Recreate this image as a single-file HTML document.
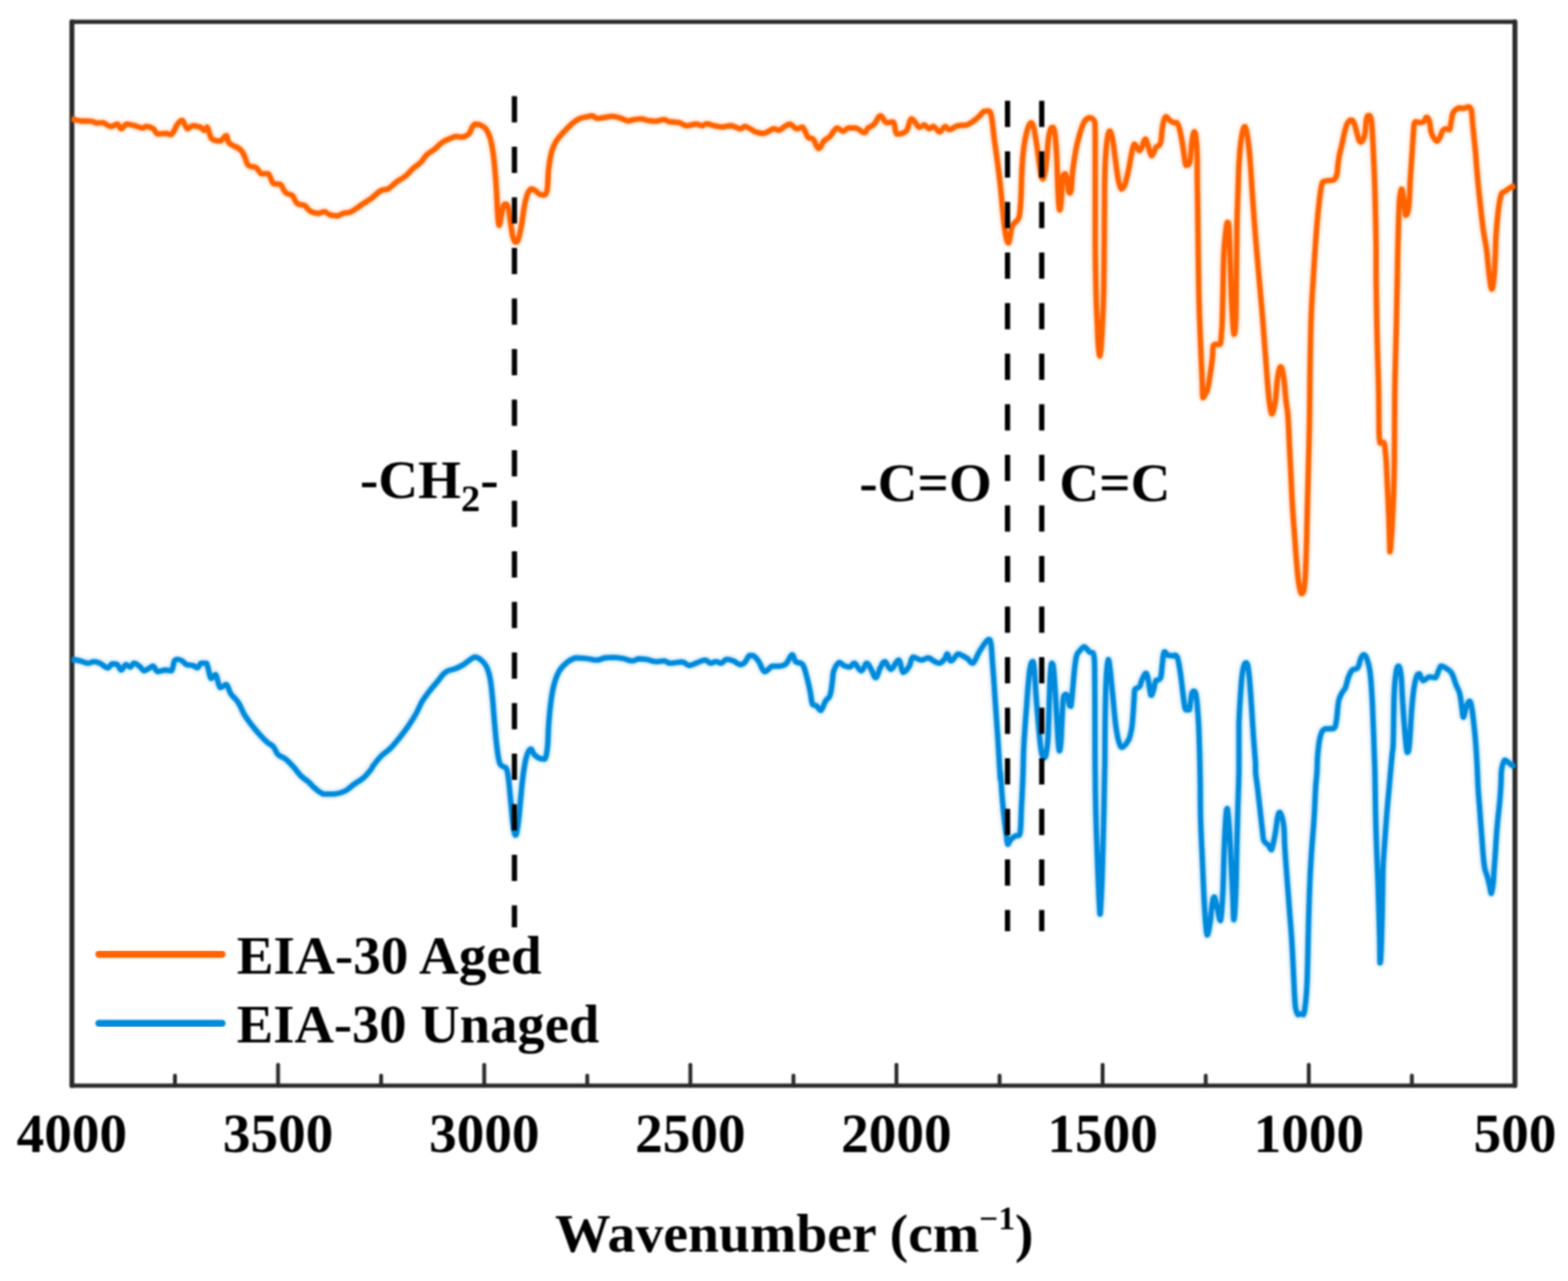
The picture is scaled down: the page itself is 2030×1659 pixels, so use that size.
<!DOCTYPE html>
<html lang="en"><head><meta charset="utf-8"><title>FTIR spectra EIA-30</title>
<style>
html,body{margin:0;padding:0;background:#fff;}
body{width:2030px;height:1659px;overflow:hidden;}
svg{display:block;}
text{font-family:"Liberation Serif","Times New Roman",Times,serif;font-weight:bold;fill:#000;}
</style></head><body>
<svg xmlns="http://www.w3.org/2000/svg" width="2030" height="1659" viewBox="0 0 2030 1659">
<rect x="0" y="0" width="2030" height="1659" fill="#fff"/>
<defs>
<filter id="soft" x="-5%" y="-5%" width="110%" height="110%" filterUnits="objectBoundingBox"><feGaussianBlur stdDeviation="1.1"/></filter>
<filter id="softer" x="-5%" y="-5%" width="110%" height="110%" filterUnits="objectBoundingBox"><feGaussianBlur stdDeviation="0.9"/></filter>
<filter id="halo" x="-5%" y="-5%" width="110%" height="110%" filterUnits="objectBoundingBox"><feGaussianBlur stdDeviation="2.2"/></filter>
</defs>
<g stroke="#2b2b2b" fill="none" filter="url(#soft)">
<path stroke-width="5.4" stroke-linecap="round" d="M93.1 28.3 H1961.3 M93.1 1406.0 H1961.3"/>
<path stroke-width="6.4" stroke-linecap="round" d="M93.1 28.3 V1406.0 M1961.3 28.3 V1406.0"/>
<path stroke-width="5" stroke-linecap="round" d="M226.5 1406.0 V1393.0 M360.0 1406.0 V1379.0 M493.4 1406.0 V1393.0 M626.9 1406.0 V1379.0 M760.3 1406.0 V1393.0 M893.8 1406.0 V1379.0 M1027.2 1406.0 V1393.0 M1160.6 1406.0 V1379.0 M1294.1 1406.0 V1393.0 M1427.5 1406.0 V1379.0 M1561.0 1406.0 V1393.0 M1694.4 1406.0 V1379.0 M1827.9 1406.0 V1393.0"/>
</g>
<g fill="none" stroke-linejoin="round" stroke-linecap="butt" stroke-width="11" opacity="0.22" filter="url(#halo)">
<path stroke="#ff6400" d="M92.8 153.9 C95.0 154.4 98.7 155.9 103.7 156.5 C108.6 156.9 113.1 156.5 117.5 156.9 C121.8 157.4 122.2 158.9 125.3 159.3 C128.5 159.3 129.7 158.9 133.2 158.9 C136.8 159.8 139.3 163.4 143.1 163.8 C146.8 163.8 149.2 160.8 152.0 160.8 C154.7 161.4 154.5 166.7 156.9 166.7 C159.3 166.7 160.2 161.6 163.8 160.8 C167.3 160.8 170.5 161.8 174.6 162.8 C178.8 163.8 181.5 165.6 184.5 165.8 C187.4 165.8 186.7 163.8 189.4 163.8 C192.2 164.0 195.3 164.8 198.3 166.7 C201.2 168.7 201.0 172.5 204.2 173.6 C207.4 173.6 210.5 172.7 214.1 172.7 C217.6 172.8 218.8 174.2 221.9 174.2 C225.1 171.9 227.1 164.5 229.8 160.8 C232.6 157.2 233.2 155.9 235.7 155.9 C238.3 157.1 239.9 165.4 242.6 166.7 C245.4 166.7 246.2 163.2 249.5 162.8 C252.9 162.8 256.4 163.6 259.4 164.8 C262.4 166.0 262.6 168.7 264.3 168.7 C266.1 168.7 266.3 164.8 268.3 164.8 C270.2 166.9 270.8 176.0 274.2 179.6 C277.5 182.5 281.3 182.5 285.0 182.5 C288.8 181.7 290.5 175.6 292.9 175.6 C295.3 176.2 292.9 181.5 296.9 185.5 C300.8 189.4 307.7 189.6 312.6 195.3 C317.6 201.0 317.8 209.7 321.5 214.1 C325.2 217.0 328.0 214.8 331.4 217.0 C334.7 219.2 335.1 223.3 338.3 224.9 C341.4 224.9 344.0 224.9 347.1 224.9 C350.3 227.5 350.9 235.0 354.0 237.7 C357.2 238.7 359.7 237.7 362.9 238.7 C366.1 241.1 366.6 246.6 369.8 249.5 C373.0 252.5 375.7 250.7 378.7 253.5 C381.6 256.2 381.4 260.8 384.6 263.3 C387.7 265.9 391.1 264.3 394.4 266.3 C397.8 268.3 398.0 271.2 401.3 273.2 C404.7 275.2 407.5 276.0 411.2 276.2 C414.9 276.2 416.9 274.2 420.1 274.2 C423.2 274.6 423.6 277.1 427.0 278.1 C430.3 279.2 433.3 279.5 436.8 279.5 C440.4 279.1 441.2 277.2 444.7 276.2 C448.3 275.1 450.2 276.2 454.6 274.2 C458.9 272.2 461.3 269.7 466.4 266.3 C471.5 262.9 476.5 259.8 480.0 257.4 C483.5 255.1 481.0 256.6 483.7 254.5 C486.4 252.3 489.8 248.6 493.5 246.6 C497.3 244.6 498.4 246.6 502.4 244.6 C506.3 242.4 508.7 239.1 513.2 235.7 C517.8 232.4 520.7 231.4 525.1 227.9 C529.4 224.3 531.0 221.5 534.9 218.0 C538.9 214.5 541.2 213.7 544.8 210.1 C548.3 206.6 549.1 203.6 552.7 200.3 C556.2 196.9 558.6 196.5 562.5 193.4 C566.5 190.2 568.8 187.0 572.4 184.5 C575.9 181.9 576.7 182.1 580.3 180.5 C583.8 179.0 586.6 177.2 590.1 176.6 C593.7 176.6 594.6 177.6 598.0 177.6 C601.4 177.0 604.1 176.4 606.9 173.6 C609.6 170.9 610.0 166.3 611.8 163.8 C613.6 161.2 613.4 161.0 615.7 160.8 C618.1 160.8 620.9 161.4 623.6 162.8 C626.4 164.2 627.4 164.6 629.5 167.7 C631.7 170.9 632.7 172.5 634.5 178.6 C636.2 184.7 637.0 188.4 638.4 198.3 C639.8 208.1 640.4 216.0 641.4 227.9 C642.4 239.7 642.8 247.6 643.3 257.4 C643.9 267.3 643.7 270.2 644.3 277.1 C644.9 284.0 645.3 291.9 646.3 291.9 C647.3 291.9 648.1 282.5 649.3 277.1 C650.4 271.8 651.0 267.9 652.2 265.3 C653.4 264.3 654.0 264.3 655.2 264.3 C656.4 265.1 656.9 264.3 658.1 269.3 C659.3 274.2 659.9 281.5 661.1 289.0 C662.3 296.5 662.7 301.8 664.0 306.7 C665.4 311.6 666.4 313.6 668.0 313.6 C669.6 313.6 670.3 312.0 671.9 306.7 C673.5 301.4 674.5 294.9 675.9 287.0 C677.2 279.1 677.4 274.4 678.8 267.3 C680.2 260.2 681.0 256.0 682.8 251.5 C684.5 247.0 685.7 245.6 687.7 244.6 C689.7 244.6 690.5 245.2 692.6 246.6 C694.8 248.0 696.2 250.3 698.5 251.5 C700.9 252.5 702.5 252.5 704.5 252.5 C706.4 251.3 707.2 252.5 708.4 245.6 C709.6 238.7 709.2 227.9 710.4 218.0 C711.6 208.1 712.3 203.4 714.3 196.3 C716.3 189.2 717.1 187.6 720.2 182.5 C723.4 177.4 726.1 175.0 730.1 170.7 C734.0 166.3 736.0 164.2 739.9 160.8 C743.9 157.5 745.9 155.8 749.8 153.9 C753.7 152.0 756.3 152.2 759.7 151.4 C763.0 150.6 763.8 150.0 766.6 150.0 C769.3 150.4 770.1 152.9 773.5 153.3 C776.8 153.3 779.4 152.5 783.3 152.0 C787.3 151.4 789.2 150.6 793.2 150.6 C797.1 150.8 799.1 151.8 803.0 152.9 C807.0 154.1 809.3 156.1 812.9 156.5 C816.4 156.5 817.2 155.4 820.8 154.9 C824.3 154.4 827.1 153.9 830.6 153.9 C834.2 154.1 835.0 155.3 838.5 155.9 C842.1 156.5 844.1 156.9 848.4 156.9 C852.7 156.7 856.5 154.9 860.0 154.9 C863.5 155.0 861.7 156.5 865.6 157.3 C869.5 158.1 874.9 157.8 879.4 158.9 C884.0 160.0 884.0 162.4 888.3 162.8 C892.6 162.8 897.0 160.8 901.1 160.8 C905.3 160.8 906.2 162.8 909.0 162.8 C911.8 162.7 911.8 160.4 914.9 160.4 C918.1 160.4 920.8 162.0 924.8 162.8 C928.7 163.6 930.3 164.4 934.6 164.4 C939.0 164.4 941.7 162.8 946.5 162.8 C951.2 163.3 954.5 166.5 958.3 166.7 C962.0 166.7 961.2 163.8 965.2 163.8 C969.1 164.6 973.3 168.9 978.0 170.7 C982.7 172.5 984.1 172.7 988.8 172.7 C993.6 171.9 997.7 167.5 1001.7 166.7 C1005.6 166.7 1005.4 168.7 1008.6 168.7 C1011.7 167.9 1014.5 164.4 1017.4 162.8 C1020.4 161.2 1020.6 160.8 1023.3 160.8 C1026.1 161.6 1028.1 166.0 1031.2 166.7 C1034.4 166.7 1036.2 164.8 1039.1 164.8 C1042.1 166.9 1043.3 174.4 1046.0 177.6 C1048.8 180.5 1050.2 177.6 1052.9 180.5 C1055.7 183.5 1057.1 192.0 1059.8 192.4 C1062.6 192.4 1063.8 185.7 1066.7 182.5 C1069.7 179.4 1071.2 180.0 1074.6 176.6 C1077.9 173.2 1080.1 167.1 1083.5 165.8 C1086.8 165.8 1088.4 169.7 1091.4 169.7 C1094.3 169.7 1094.9 166.5 1098.3 165.8 C1101.6 165.8 1104.0 165.8 1108.1 165.8 C1112.3 166.9 1115.8 171.7 1119.0 171.7 C1122.1 171.7 1121.3 167.9 1123.9 165.8 C1126.4 163.6 1128.6 164.0 1131.8 160.8 C1134.9 157.7 1136.5 150.4 1139.7 150.0 C1142.8 150.0 1144.2 157.3 1147.5 158.9 C1150.9 158.9 1153.7 157.9 1156.4 157.9 C1159.2 160.8 1158.0 171.3 1161.3 173.6 C1164.7 173.6 1169.4 173.6 1173.2 169.7 C1176.9 165.8 1176.7 154.9 1180.1 153.9 C1183.4 153.9 1186.6 163.2 1189.9 164.8 C1193.3 164.8 1194.3 161.8 1196.8 161.8 C1199.4 162.2 1200.4 166.3 1202.7 166.7 C1205.1 166.7 1205.9 163.8 1208.7 163.8 C1211.4 164.6 1213.6 170.7 1216.5 170.7 C1219.5 170.7 1220.9 164.4 1223.4 163.8 C1226.0 163.8 1226.0 167.7 1229.4 167.7 C1232.7 167.5 1235.6 164.0 1240.0 162.8 C1244.4 161.8 1247.3 162.8 1251.5 161.8 C1255.8 160.4 1258.2 158.1 1261.4 155.9 C1264.6 153.7 1264.8 153.3 1267.3 151.0 C1269.9 148.6 1271.7 145.5 1274.2 144.1 C1276.8 143.6 1278.1 143.6 1280.0 143.6 C1281.9 145.0 1282.1 143.6 1283.5 150.7 C1285.0 157.8 1285.6 167.5 1287.1 179.1 C1288.6 190.7 1289.7 196.8 1291.2 208.7 C1292.8 220.5 1293.5 226.4 1294.8 238.2 C1296.1 250.0 1296.8 258.3 1297.7 267.8 C1298.7 277.2 1298.7 278.4 1299.5 285.5 C1300.3 292.6 1301.0 298.0 1301.9 303.3 C1302.7 308.5 1302.9 309.3 1303.6 311.5 C1304.4 313.8 1304.9 314.6 1305.8 314.6 C1306.6 313.7 1306.9 311.0 1307.8 306.8 C1308.7 302.6 1308.8 297.6 1310.1 293.8 C1311.4 290.0 1312.5 290.2 1314.3 287.9 C1316.1 285.5 1317.7 286.0 1319.0 282.0 C1320.4 278.0 1320.4 274.2 1321.0 267.8 C1321.6 261.4 1321.5 260.7 1322.0 250.0 C1322.4 239.4 1322.6 226.4 1323.3 214.6 C1324.0 202.8 1324.4 199.2 1325.5 190.9 C1326.6 182.7 1327.4 178.9 1328.7 173.2 C1330.0 167.5 1330.8 165.4 1332.0 162.6 C1333.3 159.7 1333.8 159.0 1335.0 159.0 C1336.2 159.3 1336.9 160.4 1337.9 163.7 C1339.0 167.1 1339.3 170.1 1340.3 175.6 C1341.2 181.0 1341.7 184.3 1342.7 190.9 C1343.6 197.6 1344.1 202.0 1345.0 208.7 C1346.0 215.3 1346.4 219.4 1347.4 224.0 C1348.3 228.7 1348.8 231.3 1349.8 231.7 C1350.7 231.7 1351.2 230.3 1352.1 226.4 C1353.1 222.5 1353.7 219.3 1354.5 212.2 C1355.3 205.1 1355.5 198.3 1356.3 190.9 C1357.0 183.6 1357.2 180.4 1358.0 175.6 C1358.9 170.7 1359.4 168.8 1360.4 166.7 C1361.3 164.9 1361.8 164.9 1362.8 164.9 C1363.7 165.5 1364.3 165.6 1365.1 169.7 C1366.0 173.7 1366.3 178.4 1366.9 185.0 C1367.5 191.6 1367.7 194.5 1368.1 202.8 C1368.5 211.0 1368.6 216.9 1368.9 226.4 C1369.3 235.9 1369.5 242.2 1369.9 250.0 C1370.2 257.9 1370.4 261.0 1370.8 265.4 C1371.2 269.8 1371.5 271.9 1372.0 271.9 C1372.5 271.9 1372.9 269.8 1373.4 265.4 C1373.9 261.0 1374.2 256.7 1374.6 250.0 C1375.0 243.4 1375.0 237.0 1375.4 232.3 C1375.8 227.6 1375.9 227.8 1376.7 226.4 C1377.5 225.2 1378.3 225.2 1379.3 225.2 C1380.3 226.6 1380.8 229.0 1381.7 233.5 C1382.5 238.0 1382.7 244.4 1383.4 247.7 C1384.2 250.0 1384.5 250.0 1385.2 250.0 C1385.9 249.3 1386.4 248.9 1387.0 244.1 C1387.6 239.4 1387.5 233.5 1388.2 226.4 C1388.9 219.3 1389.5 215.8 1390.5 208.7 C1391.6 201.6 1392.2 197.3 1393.5 190.9 C1394.8 184.6 1395.6 182.0 1397.0 176.7 C1398.5 171.5 1398.9 169.2 1400.6 164.9 C1402.2 160.7 1403.3 158.0 1405.3 155.5 C1407.3 153.0 1408.6 152.6 1410.6 152.5 C1412.7 152.5 1414.0 153.3 1415.4 154.9 C1416.7 156.4 1417.0 155.3 1417.5 160.2 C1417.9 165.0 1417.8 163.5 1417.9 179.1 C1417.9 194.7 1417.9 210.8 1417.9 238.2 C1417.9 265.6 1417.9 287.8 1417.9 316.1 C1418.1 344.5 1418.5 359.6 1419.0 380.0 C1419.5 400.4 1419.9 405.0 1420.5 418.0 C1421.1 431.0 1421.1 436.4 1421.8 445.0 C1422.5 453.6 1423.0 461.0 1423.8 461.0 C1424.6 461.0 1425.1 453.6 1425.8 445.0 C1426.5 436.4 1426.7 431.0 1427.3 418.0 C1427.9 405.0 1428.3 400.4 1428.8 380.0 C1429.3 359.6 1429.3 344.5 1429.6 316.1 C1429.8 287.8 1429.8 260.9 1430.1 238.2 C1430.5 215.6 1430.6 214.6 1431.3 202.8 C1432.0 190.9 1432.6 185.7 1433.7 179.1 C1434.8 172.5 1435.5 170.1 1436.7 169.7 C1437.8 169.7 1438.5 172.5 1439.6 176.7 C1440.7 181.0 1441.0 184.6 1442.0 190.9 C1442.9 197.3 1443.4 201.6 1444.3 208.7 C1445.3 215.8 1445.8 220.5 1446.7 226.4 C1447.6 232.3 1448.0 234.6 1449.1 238.2 C1450.1 241.9 1450.7 244.3 1452.0 244.7 C1453.3 244.7 1454.3 243.3 1455.6 240.6 C1456.9 237.9 1457.3 235.6 1458.5 231.1 C1459.7 226.6 1460.4 223.3 1461.5 218.1 C1462.5 212.9 1462.9 210.1 1463.8 205.1 C1464.8 200.2 1465.3 197.0 1466.2 193.3 C1467.2 189.6 1467.4 187.3 1468.6 186.8 C1469.8 186.8 1470.8 189.3 1472.1 190.9 C1473.4 192.6 1473.8 195.1 1475.1 195.1 C1476.4 194.8 1477.4 192.2 1478.6 189.8 C1479.8 187.3 1480.0 184.6 1481.0 182.7 C1481.9 180.8 1482.3 180.3 1483.3 180.3 C1484.4 181.5 1485.2 185.3 1486.3 188.6 C1487.4 191.9 1487.7 194.2 1488.7 196.8 C1489.6 199.4 1490.0 201.6 1491.0 201.6 C1492.1 201.6 1492.9 199.0 1494.0 196.8 C1495.1 194.7 1495.2 192.6 1496.4 190.9 C1497.5 189.3 1498.6 190.0 1499.9 188.6 C1501.2 187.2 1501.9 188.1 1502.9 183.8 C1503.8 179.6 1503.8 173.0 1504.6 167.3 C1505.5 161.6 1505.9 158.7 1507.0 155.5 C1508.1 152.3 1508.5 151.3 1510.0 151.3 C1511.4 151.3 1512.1 153.9 1514.1 155.5 C1516.1 157.0 1518.1 158.3 1520.0 159.0 C1521.9 159.0 1522.1 158.9 1523.6 158.9 C1525.1 160.8 1526.0 162.4 1527.5 168.7 C1529.1 175.0 1529.9 181.3 1531.5 190.4 C1533.1 199.5 1533.7 210.1 1535.4 214.1 C1537.2 214.1 1538.8 214.1 1540.4 210.1 C1541.9 203.8 1542.1 190.4 1543.3 182.5 C1544.5 174.6 1545.2 170.7 1546.3 170.7 C1547.4 170.7 1548.1 175.0 1548.8 182.5 C1549.6 190.0 1549.8 198.6 1550.0 208.1 C1550.0 217.6 1550.0 219.4 1550.0 230.0 C1550.1 240.6 1550.1 230.8 1550.5 261.0 C1550.9 291.2 1551.3 343.4 1552.1 381.0 C1552.9 418.6 1553.7 427.2 1554.5 449.0 C1555.3 470.8 1555.7 476.8 1556.3 490.0 C1556.9 503.2 1556.6 511.0 1557.4 515.0 C1558.2 515.0 1559.2 512.8 1560.5 510.0 C1561.8 507.2 1562.2 510.0 1564.0 501.0 C1565.8 492.0 1568.2 475.2 1569.5 464.8 C1570.5 454.4 1569.8 452.8 1570.5 449.0 C1571.2 446.0 1571.2 446.6 1573.0 446.0 C1574.8 446.0 1577.8 446.0 1579.5 446.0 C1581.2 442.8 1580.9 435.8 1581.5 430.0 C1582.1 424.2 1582.0 426.8 1582.3 417.0 C1582.6 407.2 1582.8 398.6 1583.2 381.0 C1583.6 363.4 1583.7 345.2 1584.5 329.0 C1585.3 312.8 1586.1 308.2 1587.0 300.0 C1587.9 291.8 1588.3 288.0 1589.2 288.0 C1590.1 288.0 1590.5 288.0 1591.3 300.0 C1592.1 312.4 1592.3 330.0 1593.0 350.0 C1593.7 370.0 1594.1 383.4 1595.0 400.0 C1595.9 416.6 1596.5 429.6 1597.5 433.0 C1598.5 433.0 1599.2 429.6 1599.8 417.0 C1600.4 404.4 1600.2 394.0 1600.5 370.0 C1600.8 346.0 1600.9 321.0 1601.3 297.0 C1601.7 273.0 1602.1 267.6 1602.7 250.0 C1603.3 232.4 1603.3 223.0 1604.2 209.0 C1605.1 195.0 1605.6 189.0 1607.0 180.0 C1608.4 171.0 1609.7 164.0 1611.4 164.0 C1613.1 164.0 1614.1 171.0 1615.5 180.0 C1616.9 189.0 1617.2 192.8 1618.5 209.0 C1619.8 225.2 1620.4 238.8 1622.0 261.0 C1623.6 283.2 1624.5 296.0 1626.5 320.0 C1628.5 344.0 1630.2 361.6 1631.9 381.0 C1633.6 400.4 1633.9 403.4 1635.0 417.0 C1636.1 430.6 1636.4 436.4 1637.4 449.0 C1638.4 461.6 1639.0 469.6 1639.8 480.0 C1640.6 490.4 1640.6 492.0 1641.4 501.0 C1642.2 510.0 1642.9 518.0 1644.0 525.0 C1645.1 532.0 1645.6 536.0 1647.0 536.0 C1648.4 535.0 1649.6 529.2 1651.0 520.0 C1652.4 510.8 1652.6 499.0 1654.0 490.0 C1655.4 481.0 1656.4 475.0 1658.0 475.0 C1659.6 475.0 1660.6 481.0 1662.0 490.0 C1663.4 499.0 1663.9 510.2 1665.0 520.0 C1666.1 529.8 1666.6 527.4 1667.4 539.1 C1668.3 550.9 1668.6 562.8 1669.4 578.6 C1670.2 594.3 1670.6 602.2 1671.4 618.0 C1672.2 633.8 1672.4 641.7 1673.4 657.4 C1674.3 673.2 1675.1 681.1 1676.3 696.9 C1677.5 712.6 1678.1 723.7 1679.3 736.3 C1680.5 748.9 1681.0 753.4 1682.2 759.9 C1683.5 766.4 1684.2 768.8 1685.6 768.8 C1687.0 768.0 1688.0 766.4 1689.1 756.0 C1690.2 745.5 1690.5 732.3 1691.1 716.6 C1691.7 700.8 1691.7 692.9 1692.1 677.1 C1692.5 661.4 1692.7 653.5 1693.1 637.7 C1693.5 621.9 1693.7 614.1 1694.1 598.3 C1694.5 582.5 1694.7 574.6 1695.0 558.9 C1695.4 543.1 1695.4 535.2 1695.6 519.4 C1695.8 503.7 1695.6 502.5 1696.0 480.0 C1696.4 457.5 1696.7 431.9 1697.6 407.1 C1698.5 382.3 1699.2 378.0 1700.5 356.0 C1701.9 334.0 1702.9 316.6 1704.5 296.9 C1706.1 277.1 1706.9 269.7 1708.4 257.4 C1710.0 245.2 1710.1 240.4 1712.4 235.7 C1714.7 233.9 1717.2 234.4 1720.0 233.9 C1722.8 233.4 1724.1 233.9 1726.2 233.3 C1728.3 231.9 1729.2 231.3 1730.5 227.1 C1731.7 223.0 1731.6 217.8 1732.3 212.4 C1733.1 206.9 1733.2 205.0 1734.2 200.0 C1735.1 195.1 1736.0 193.2 1737.2 187.7 C1738.5 182.3 1739.0 178.4 1740.3 173.0 C1741.7 167.5 1742.5 164.1 1744.0 160.6 C1745.5 157.2 1746.4 156.7 1747.7 155.7 C1749.1 155.7 1749.6 155.7 1750.8 155.7 C1752.0 156.9 1752.6 158.4 1753.9 161.9 C1755.1 165.3 1755.8 169.0 1756.9 173.0 C1758.1 176.9 1758.4 179.4 1759.4 181.6 C1760.4 183.8 1760.8 184.0 1761.9 184.0 C1763.0 183.8 1763.8 182.8 1765.0 180.3 C1766.1 177.9 1766.7 176.4 1767.4 171.7 C1768.2 167.0 1768.0 161.3 1768.6 156.9 C1769.3 152.6 1769.6 151.7 1770.5 150.2 C1771.4 149.6 1772.0 149.6 1773.0 149.6 C1773.9 150.7 1774.6 150.5 1775.4 155.7 C1776.2 160.9 1776.3 165.3 1776.9 175.4 C1777.5 185.5 1777.8 192.7 1778.4 206.2 C1779.0 219.8 1779.4 228.4 1779.9 243.2 C1780.3 257.9 1780.5 263.9 1780.8 280.1 C1781.2 296.3 1781.4 308.3 1781.6 324.3 C1781.6 340.3 1781.6 340.9 1781.6 360.0 C1781.8 379.1 1782.1 400.0 1782.5 420.0 C1782.9 440.0 1783.0 443.2 1783.5 460.0 C1784.0 476.8 1784.5 488.0 1784.8 504.0 C1785.1 520.0 1785.1 528.4 1785.2 540.0 C1785.3 551.6 1785.2 555.2 1785.5 562.0 C1785.9 568.8 1785.8 571.8 1787.0 574.0 C1788.2 574.0 1790.3 573.0 1791.6 573.0 C1792.9 575.2 1792.9 579.6 1793.5 585.0 C1794.1 590.4 1794.2 589.4 1794.8 600.0 C1795.4 610.6 1795.9 622.6 1796.6 638.0 C1797.3 653.4 1797.7 661.7 1798.3 677.0 C1798.9 692.3 1799.0 710.0 1799.5 714.6 C1800.0 714.6 1800.4 707.5 1801.0 700.0 C1801.6 692.5 1801.9 689.4 1802.5 677.0 C1803.1 664.6 1803.7 653.8 1804.2 638.0 C1804.7 622.2 1804.9 617.6 1805.2 598.0 C1805.5 578.4 1805.5 558.8 1805.6 540.0 C1805.7 521.2 1805.6 520.0 1805.8 504.0 C1806.0 488.0 1806.4 476.8 1806.8 460.0 C1807.2 443.2 1807.4 440.0 1807.8 420.0 C1808.2 400.0 1808.6 379.1 1809.0 360.0 C1809.4 340.9 1809.2 342.8 1809.7 324.3 C1810.1 305.9 1810.7 282.5 1811.4 267.8 C1812.0 253.0 1812.3 255.1 1813.0 250.5 C1813.7 246.0 1814.0 245.0 1814.8 245.0 C1815.7 246.5 1816.3 251.2 1817.3 257.9 C1818.3 264.7 1818.6 275.7 1819.8 278.9 C1820.9 278.9 1821.8 278.6 1822.8 273.9 C1823.8 269.3 1824.1 264.1 1824.7 255.5 C1825.3 246.8 1825.2 243.2 1825.9 230.8 C1826.7 218.5 1827.4 207.9 1828.4 193.9 C1829.4 179.9 1829.9 167.9 1830.8 160.6 C1831.8 157.6 1831.8 157.9 1833.3 157.6 C1834.8 157.6 1836.3 158.8 1838.2 158.8 C1840.2 158.8 1841.4 158.8 1843.2 157.6 C1844.9 156.2 1845.4 152.1 1846.8 152.0 C1848.3 152.0 1849.3 153.0 1850.5 156.9 C1851.8 160.9 1851.8 167.3 1853.0 171.7 C1854.2 176.2 1855.2 176.9 1856.7 179.1 C1858.2 181.3 1858.9 182.8 1860.4 182.8 C1861.9 182.6 1862.6 180.6 1864.1 177.9 C1865.6 175.2 1866.3 171.5 1867.8 169.3 C1869.3 167.0 1869.8 167.0 1871.5 166.8 C1873.2 166.8 1874.9 168.0 1876.4 168.0 C1877.9 166.1 1877.9 161.4 1878.9 156.9 C1879.9 152.5 1879.4 149.3 1881.3 145.9 C1883.3 142.4 1886.0 140.8 1888.7 139.7 C1891.4 139.7 1892.4 140.3 1894.9 140.3 C1897.3 140.1 1899.1 138.5 1901.0 138.5 C1903.0 138.8 1903.6 138.5 1904.7 142.2 C1905.8 146.5 1905.7 152.4 1906.5 160.0 C1907.3 167.6 1907.7 172.0 1908.5 180.0 C1909.3 188.0 1909.8 192.0 1910.5 200.0 C1911.2 208.0 1911.3 212.0 1912.0 220.0 C1912.7 228.0 1912.8 230.1 1913.8 240.0 C1914.8 249.9 1915.7 257.8 1917.0 269.6 C1918.3 281.4 1919.0 288.4 1920.5 299.0 C1922.0 309.6 1923.3 314.5 1924.5 322.7 C1925.7 330.9 1925.5 332.9 1926.3 340.0 C1927.1 347.1 1927.3 351.1 1928.3 358.0 C1929.3 364.9 1930.1 374.5 1931.3 374.5 C1932.5 374.5 1933.5 364.9 1934.3 358.0 C1935.1 351.1 1935.0 345.9 1935.3 340.0 C1935.6 334.1 1935.7 335.7 1936.0 328.7 C1936.3 321.7 1936.2 314.5 1936.8 305.0 C1937.4 295.5 1938.0 289.7 1938.8 281.4 C1939.6 273.1 1940.2 268.9 1941.0 263.6 C1941.8 258.3 1942.0 257.5 1942.7 254.8 C1943.4 252.1 1943.3 251.4 1944.5 250.0 C1945.7 248.6 1946.7 249.0 1948.7 247.7 C1950.7 246.4 1952.1 245.0 1954.6 243.5 C1957.1 242.0 1960.0 240.7 1961.3 240.0"/>
<path stroke="#008adc" d="M92.8 853.9 C95.0 854.3 99.3 854.9 103.7 855.9 C108.0 856.9 111.0 858.7 114.5 858.9 C118.0 858.9 118.4 856.9 121.4 856.9 C124.4 856.9 125.7 857.3 129.3 858.9 C132.8 860.4 136.0 864.6 139.1 864.8 C142.3 864.8 142.5 860.6 145.1 859.8 C147.6 859.8 149.6 859.8 152.0 860.8 C154.3 862.4 154.7 867.7 156.9 867.7 C159.1 867.7 160.4 861.6 162.8 860.8 C165.2 860.8 166.5 863.8 168.7 863.8 C170.9 863.4 171.3 859.1 173.6 858.9 C176.0 858.9 178.0 860.8 180.5 862.8 C183.1 864.8 184.1 868.1 186.5 868.7 C188.8 868.7 190.0 866.9 192.4 865.8 C194.7 864.6 195.9 862.8 198.3 862.8 C200.7 863.6 201.0 868.7 204.2 869.7 C207.4 869.7 210.5 867.9 214.1 867.7 C217.6 867.7 219.6 868.7 221.9 868.7 C224.3 866.3 224.3 858.9 225.9 855.9 C227.5 853.9 227.9 853.9 229.8 853.9 C231.8 853.9 233.4 854.5 235.7 855.9 C238.1 857.3 238.9 859.6 241.7 860.8 C244.4 861.8 246.8 861.0 249.5 861.8 C252.3 862.6 253.3 864.8 255.5 864.8 C257.6 864.2 258.0 860.0 260.4 858.9 C262.8 858.9 264.7 858.9 267.3 858.9 C269.8 862.8 270.8 875.6 273.2 878.6 C275.6 878.6 276.7 873.6 279.1 873.6 C281.5 876.0 282.3 887.8 285.0 890.4 C287.8 890.4 290.2 886.5 292.9 886.5 C295.7 888.0 295.7 893.6 298.8 898.3 C302.0 903.0 305.1 904.6 308.7 910.1 C312.2 915.6 313.0 920.0 316.6 925.9 C320.1 931.8 322.5 934.6 326.4 939.7 C330.4 944.8 332.3 947.2 336.3 951.5 C340.2 955.9 342.6 958.2 346.1 961.4 C349.7 964.5 351.3 964.1 354.0 967.3 C356.8 970.4 356.8 974.0 359.9 977.1 C363.1 980.3 365.9 979.9 369.8 983.1 C373.7 986.2 375.7 988.6 379.7 992.9 C383.6 997.2 385.6 1000.8 389.5 1004.7 C393.5 1008.7 395.8 1009.5 399.4 1012.6 C402.9 1015.8 403.3 1017.4 407.3 1020.5 C411.2 1023.7 414.0 1026.8 419.1 1028.4 C424.2 1028.4 427.4 1028.4 432.9 1028.4 C438.4 1027.6 441.6 1027.0 446.7 1024.5 C451.8 1021.9 453.8 1018.9 458.5 1015.6 C463.2 1012.2 466.0 1011.4 470.3 1007.7 C474.6 1004.0 477.3 1000.2 480.0 996.9 C482.7 993.5 481.0 994.5 483.7 990.9 C486.4 987.4 489.2 983.4 493.5 979.1 C497.9 974.8 500.6 974.0 505.3 969.3 C510.1 964.5 512.4 961.4 517.2 955.5 C521.9 949.5 524.7 946.0 529.0 939.7 C533.3 933.4 535.3 930.2 538.9 923.9 C542.4 917.6 543.2 914.1 546.7 908.1 C550.3 902.2 552.7 899.5 556.6 894.3 C560.5 889.2 562.9 886.9 566.5 882.5 C570.0 878.2 571.6 875.4 574.3 872.7 C577.1 869.9 577.1 870.1 580.3 868.7 C583.4 867.3 586.2 867.3 590.1 865.8 C594.1 864.2 596.4 863.0 600.0 860.8 C603.5 858.7 604.9 856.9 607.9 854.9 C610.8 852.9 612.0 851.2 614.8 851.0 C617.5 851.0 618.7 851.6 621.7 853.9 C624.6 856.3 627.0 857.9 629.5 862.8 C632.1 867.7 632.9 870.7 634.5 878.6 C636.0 886.5 636.2 890.4 637.4 902.2 C638.6 914.1 639.2 924.7 640.4 937.7 C641.6 950.7 642.0 957.0 643.3 967.3 C644.7 977.5 644.9 983.4 647.3 989.0 C649.7 994.5 653.0 991.3 655.2 994.9 C657.3 998.4 656.9 998.4 658.1 1006.7 C659.3 1015.0 659.9 1024.5 661.1 1036.3 C662.3 1048.1 662.8 1056.8 664.0 1065.9 C665.3 1074.9 666.0 1081.6 667.4 1081.6 C668.8 1081.6 669.6 1074.9 670.9 1065.9 C672.2 1056.8 672.7 1048.1 673.9 1036.3 C675.1 1024.5 675.5 1017.4 676.9 1006.7 C678.2 996.1 679.2 990.0 680.8 983.1 C682.4 976.2 683.4 974.8 684.7 972.2 C686.1 970.2 686.3 970.2 687.7 970.2 C689.1 971.2 689.5 974.8 691.6 977.1 C693.8 979.5 695.8 980.9 698.5 982.1 C701.3 983.1 703.4 983.1 705.4 983.1 C707.5 980.1 707.8 976.4 708.8 967.3 C709.8 958.2 709.5 949.5 710.4 937.7 C711.3 925.9 711.9 918.4 713.3 908.1 C714.7 897.9 715.1 894.3 717.3 886.5 C719.4 878.6 720.8 874.4 724.2 868.7 C727.5 863.0 729.7 861.2 734.0 857.9 C738.4 854.5 740.7 852.9 745.9 852.0 C751.0 852.0 754.3 852.4 759.7 852.9 C765.0 853.5 767.7 854.9 772.5 854.9 C777.2 854.7 778.8 852.7 783.3 852.0 C787.8 851.4 790.4 851.4 795.1 851.4 C799.9 851.6 802.2 852.0 807.0 852.9 C811.7 853.8 814.9 855.8 818.8 855.9 C822.7 855.9 823.1 853.7 826.7 853.3 C830.2 853.3 832.2 853.3 836.5 853.9 C840.9 854.6 843.7 856.5 848.4 856.9 C853.1 856.9 856.2 855.9 860.0 855.9 C863.8 856.3 862.9 858.6 867.6 858.9 C872.3 858.9 878.4 857.3 883.4 857.3 C888.3 857.9 888.3 861.7 892.2 861.8 C896.2 861.8 898.9 859.3 903.1 857.9 C907.2 856.5 909.6 854.9 912.9 854.9 C916.3 855.1 917.1 858.5 919.8 858.9 C922.6 858.9 924.0 856.9 926.7 856.9 C929.5 856.9 930.9 858.9 933.6 858.9 C936.4 858.3 937.4 854.5 940.5 853.9 C943.7 853.9 945.9 854.5 949.4 855.9 C953.0 857.3 955.3 860.4 958.3 860.8 C961.2 860.8 961.8 860.2 964.2 857.9 C966.6 855.5 967.9 850.8 970.1 849.0 C972.3 849.0 972.7 849.0 975.0 849.0 C977.4 850.4 979.0 851.8 981.9 855.9 C984.9 860.0 986.3 868.3 989.8 869.7 C993.4 869.7 996.1 864.2 999.7 862.8 C1003.2 862.8 1004.0 862.8 1007.6 862.8 C1011.1 862.2 1013.9 862.8 1017.4 859.8 C1021.0 856.9 1022.8 848.6 1025.3 848.0 C1027.9 848.0 1027.5 854.3 1030.2 856.9 C1033.0 859.4 1036.2 856.9 1039.1 860.8 C1042.1 865.2 1043.1 871.5 1045.0 878.6 C1047.0 885.7 1047.6 889.6 1049.0 896.3 C1050.3 903.0 1050.3 908.5 1051.9 912.1 C1053.5 914.1 1054.7 912.5 1056.9 914.1 C1059.0 915.6 1060.4 920.0 1062.8 920.0 C1065.1 918.8 1066.3 912.1 1068.7 908.1 C1071.0 904.2 1072.8 905.4 1074.6 900.3 C1076.4 895.1 1076.6 888.8 1077.6 882.5 C1078.5 876.2 1077.8 873.6 1079.5 868.7 C1081.3 863.8 1083.9 859.3 1086.4 857.9 C1089.0 857.9 1089.6 860.6 1092.3 861.8 C1095.1 863.0 1097.5 863.8 1100.2 863.8 C1103.0 863.2 1103.2 858.9 1106.1 858.9 C1109.1 859.8 1111.9 868.7 1115.0 868.7 C1118.2 868.7 1119.3 859.3 1121.9 858.9 C1124.5 858.9 1125.5 863.0 1127.8 866.7 C1130.2 870.5 1131.4 877.6 1133.7 877.6 C1136.1 877.2 1137.3 868.9 1139.7 864.8 C1142.0 860.6 1142.8 856.9 1145.6 856.9 C1148.3 857.3 1149.9 866.7 1153.5 866.7 C1157.0 866.3 1160.2 854.9 1163.3 854.9 C1166.5 855.7 1166.5 869.1 1169.2 870.7 C1172.0 870.7 1174.5 866.7 1177.1 862.8 C1179.7 858.9 1178.9 852.5 1182.0 851.0 C1185.2 851.0 1188.9 854.7 1192.9 854.9 C1196.8 854.9 1198.6 852.0 1201.8 852.0 C1204.9 852.2 1205.7 854.5 1208.7 855.9 C1211.6 857.3 1213.6 858.9 1216.5 858.9 C1219.5 858.3 1221.5 855.3 1223.4 852.9 C1225.4 850.6 1224.8 847.0 1226.4 847.0 C1228.0 847.6 1228.6 855.9 1231.3 855.9 C1234.0 855.9 1237.1 848.4 1240.0 847.0 C1242.9 847.0 1243.1 847.8 1245.6 849.0 C1248.1 850.2 1249.8 851.0 1252.5 852.9 C1255.3 854.9 1256.5 858.9 1259.4 858.9 C1262.4 857.3 1264.4 850.0 1267.3 845.1 C1270.3 840.1 1271.7 837.6 1274.2 834.2 C1276.8 830.9 1278.4 828.3 1280.1 828.3 C1281.9 828.3 1282.0 828.8 1283.0 834.2 C1283.9 839.6 1284.0 846.5 1284.7 855.5 C1285.4 864.5 1285.7 868.5 1286.5 879.1 C1287.3 889.8 1287.7 896.8 1288.5 908.7 C1289.3 920.5 1289.9 927.6 1290.6 938.2 C1291.4 948.9 1291.6 952.4 1292.2 961.9 C1292.8 971.3 1293.0 976.1 1293.6 985.5 C1294.2 995.0 1294.8 1006.3 1295.1 1009.2 C1295.1 1009.2 1295.1 1000.0 1295.1 1000.0 C1295.7 1005.3 1296.6 1022.5 1297.7 1035.5 C1298.8 1048.5 1299.6 1055.6 1300.7 1065.0 C1301.8 1074.5 1302.2 1077.1 1303.1 1082.8 C1303.9 1088.4 1303.8 1092.5 1304.8 1093.4 C1305.9 1093.4 1306.5 1089.6 1308.4 1087.5 C1310.3 1085.4 1312.0 1083.9 1314.3 1082.8 C1316.5 1081.6 1318.2 1082.8 1319.6 1081.6 C1321.0 1079.2 1320.8 1077.8 1321.4 1070.9 C1321.9 1064.1 1321.9 1056.7 1322.3 1047.3 C1322.8 1037.8 1323.1 1033.1 1323.5 1023.6 C1323.9 1014.2 1324.1 1011.2 1324.5 1000.0 C1324.8 988.8 1324.8 980.1 1325.4 967.8 C1326.0 955.4 1326.6 948.9 1327.3 938.2 C1328.0 927.6 1328.4 924.0 1329.1 914.6 C1329.8 905.1 1330.0 900.4 1330.8 890.9 C1331.7 881.5 1332.3 873.9 1333.2 867.3 C1334.1 860.7 1334.7 860.0 1335.6 857.8 C1336.4 856.7 1336.6 856.7 1337.3 856.7 C1338.0 858.5 1338.3 858.1 1339.1 867.3 C1339.9 876.5 1340.4 888.6 1341.5 902.8 C1342.5 916.9 1343.3 925.2 1344.4 938.2 C1345.6 951.2 1346.3 959.5 1347.4 967.8 C1348.5 976.1 1348.9 976.9 1349.8 979.6 C1350.6 981.4 1350.7 981.4 1351.5 981.4 C1352.4 981.1 1352.9 981.4 1353.9 978.4 C1354.8 974.5 1355.5 969.9 1356.3 961.9 C1357.0 953.8 1357.0 950.0 1357.4 938.2 C1357.9 926.4 1358.1 915.8 1358.6 902.8 C1359.1 889.8 1359.2 882.0 1359.8 873.2 C1360.4 864.5 1360.9 861.4 1361.6 859.0 C1362.3 859.0 1362.6 859.0 1363.3 861.4 C1364.1 865.4 1364.4 869.7 1365.1 879.1 C1365.8 888.6 1366.2 896.8 1366.9 908.7 C1367.6 920.5 1368.0 927.6 1368.7 938.2 C1369.3 948.9 1369.5 955.0 1370.1 961.9 C1370.7 968.7 1371.0 972.5 1371.6 972.5 C1372.3 972.5 1372.8 968.7 1373.4 961.9 C1374.0 955.0 1374.1 947.7 1374.6 938.2 C1375.1 928.8 1375.3 921.7 1375.8 914.6 C1376.2 907.5 1376.1 905.8 1376.9 902.8 C1377.8 899.7 1378.8 899.2 1379.9 899.2 C1381.0 899.2 1381.3 899.9 1382.3 902.8 C1383.2 905.6 1383.8 911.0 1384.6 913.4 C1385.5 914.6 1385.8 914.6 1386.4 914.6 C1387.0 912.5 1387.2 908.7 1387.8 902.8 C1388.4 896.8 1388.6 893.3 1389.4 885.0 C1390.1 876.7 1390.8 868.7 1391.7 861.4 C1392.7 854.0 1392.8 852.2 1394.1 848.4 C1395.4 844.6 1396.3 844.6 1398.2 842.5 C1400.1 840.3 1401.7 838.0 1403.5 837.7 C1405.4 837.7 1406.1 839.9 1407.7 841.3 C1409.2 842.7 1409.8 844.0 1411.2 844.8 C1412.7 845.4 1413.6 844.8 1414.8 845.4 C1415.9 847.5 1416.4 846.4 1416.9 855.5 C1417.4 864.6 1417.2 874.4 1417.4 890.9 C1417.5 907.5 1417.5 919.3 1417.6 938.2 C1417.7 957.1 1417.7 973.2 1417.7 985.5 C1417.8 997.9 1417.7 987.6 1417.9 999.9 C1418.0 1012.3 1418.1 1028.4 1418.6 1047.3 C1419.0 1066.2 1419.4 1075.7 1420.1 1094.6 C1420.8 1113.5 1421.2 1126.5 1421.9 1141.9 C1422.5 1157.2 1422.8 1163.0 1423.3 1171.4 C1423.8 1179.8 1423.9 1183.8 1424.2 1183.8 C1424.6 1183.8 1424.7 1179.8 1425.2 1171.4 C1425.7 1163.0 1426.0 1157.2 1426.6 1141.9 C1427.2 1126.5 1427.5 1113.5 1428.0 1094.6 C1428.5 1075.7 1428.8 1066.2 1429.2 1047.3 C1429.6 1028.4 1429.9 1012.4 1430.1 1000.0 C1430.4 987.6 1430.3 997.9 1430.4 985.5 C1430.5 973.2 1430.5 954.8 1430.7 938.2 C1430.9 921.7 1431.0 915.8 1431.3 902.8 C1431.7 889.8 1431.8 882.9 1432.5 873.2 C1433.2 863.5 1433.9 855.5 1434.9 854.3 C1435.8 854.3 1436.4 861.1 1437.2 867.3 C1438.1 873.4 1438.2 876.7 1439.0 885.0 C1439.8 893.3 1440.3 898.0 1441.4 908.7 C1442.4 919.3 1443.2 928.8 1444.3 938.2 C1445.5 947.7 1446.1 950.5 1447.3 956.0 C1448.5 961.4 1449.2 963.1 1450.2 965.4 C1451.3 967.8 1451.2 967.8 1452.6 967.8 C1454.0 967.5 1455.4 966.6 1457.3 964.2 C1459.2 961.9 1460.5 960.0 1462.1 956.0 C1463.6 951.9 1464.1 950.0 1465.0 944.1 C1466.0 938.2 1466.2 933.5 1466.8 926.4 C1467.4 919.3 1467.5 915.3 1468.0 908.7 C1468.5 902.0 1468.2 896.8 1469.2 893.3 C1470.1 890.9 1471.4 891.9 1472.7 890.9 C1474.0 890.0 1474.5 890.7 1475.7 888.6 C1476.8 886.4 1477.1 883.6 1478.6 880.3 C1480.2 877.0 1481.8 872.3 1483.3 872.0 C1484.9 872.0 1485.2 874.9 1486.3 879.1 C1487.4 883.4 1487.8 889.0 1488.7 893.3 C1489.5 897.6 1489.5 900.4 1490.4 900.4 C1491.4 900.4 1492.2 897.1 1493.4 893.3 C1494.6 889.5 1495.1 884.1 1496.4 881.5 C1497.7 880.3 1498.6 881.2 1499.9 880.3 C1501.2 879.3 1501.9 880.3 1502.9 876.7 C1503.8 873.0 1503.9 867.3 1504.6 861.4 C1505.3 855.5 1505.7 850.6 1506.4 847.2 C1507.1 844.2 1507.1 844.2 1508.2 844.2 C1509.2 844.5 1510.1 847.4 1511.7 848.4 C1513.4 849.0 1514.8 848.7 1516.5 849.0 C1518.1 849.2 1519.0 849.6 1520.0 849.6 C1521.0 849.4 1520.3 848.4 1521.3 848.4 C1522.2 849.1 1523.4 848.4 1524.8 853.1 C1526.2 858.1 1527.1 864.5 1528.4 873.2 C1529.7 882.0 1530.3 888.6 1531.3 896.8 C1532.4 905.1 1532.9 910.1 1533.7 914.6 C1534.5 919.1 1534.3 918.4 1535.5 919.3 C1536.7 919.3 1538.4 919.3 1539.6 919.3 C1540.8 917.2 1540.7 912.9 1541.4 908.7 C1542.1 904.4 1542.3 900.7 1543.2 898.0 C1544.0 895.3 1544.6 895.1 1545.5 895.1 C1546.5 895.1 1547.1 895.1 1547.9 898.0 C1548.7 901.0 1548.9 901.8 1549.7 909.9 C1550.4 917.9 1551.1 925.5 1551.8 938.2 C1552.4 951.0 1552.6 959.5 1553.0 973.7 C1553.4 987.9 1553.5 992.1 1553.8 1009.2 C1554.1 1026.3 1553.8 1037.3 1554.3 1059.1 C1554.9 1081.0 1555.8 1094.6 1556.8 1118.3 C1557.9 1141.9 1558.4 1158.9 1559.6 1177.4 C1560.8 1196.0 1561.4 1207.0 1562.8 1210.9 C1564.1 1210.9 1565.0 1205.0 1566.3 1197.1 C1567.6 1189.3 1568.1 1178.6 1569.3 1171.5 C1570.4 1164.4 1570.8 1161.7 1572.2 1161.7 C1573.6 1162.8 1574.6 1171.3 1576.2 1177.4 C1577.7 1183.5 1578.7 1192.2 1580.1 1192.2 C1581.5 1188.3 1582.1 1176.4 1583.1 1157.7 C1584.0 1139.0 1584.2 1118.3 1585.0 1098.6 C1585.8 1078.9 1586.2 1069.4 1587.0 1059.1 C1587.8 1048.9 1588.0 1047.3 1589.0 1047.3 C1590.0 1051.3 1590.9 1064.7 1591.9 1078.9 C1592.9 1093.1 1593.1 1102.5 1593.9 1118.3 C1594.7 1134.1 1595.2 1143.1 1595.9 1157.7 C1596.6 1172.3 1596.7 1191.2 1597.4 1191.2 C1598.2 1191.2 1599.1 1176.2 1599.8 1157.7 C1600.6 1139.2 1600.6 1122.2 1601.2 1098.6 C1601.8 1074.9 1602.2 1059.1 1602.8 1039.4 C1603.3 1019.7 1603.7 1013.1 1604.0 1000.0 C1604.0 986.9 1604.0 986.4 1604.0 974.0 C1604.0 961.6 1604.0 952.2 1604.0 938.0 C1604.4 923.8 1605.0 915.8 1605.8 902.8 C1606.6 889.8 1607.1 881.7 1608.2 873.2 C1609.3 864.7 1610.2 863.2 1611.1 860.2 C1612.0 858.4 1612.1 858.4 1612.9 858.4 C1613.7 858.6 1614.4 858.4 1615.3 861.4 C1616.2 865.5 1616.8 870.8 1617.6 879.1 C1618.4 887.4 1618.7 893.3 1619.4 902.8 C1620.1 912.3 1620.4 917.0 1621.0 926.4 C1621.6 935.8 1621.9 941.3 1622.5 950.0 C1623.1 958.7 1623.4 962.0 1624.0 970.0 C1624.6 978.0 1625.2 984.0 1625.5 990.0 C1625.5 996.0 1625.5 994.1 1625.5 1000.0 C1626.0 1005.9 1626.8 1009.9 1628.0 1019.7 C1629.2 1029.6 1630.1 1038.2 1631.4 1049.3 C1632.6 1060.3 1633.3 1067.0 1634.3 1074.9 C1635.3 1082.8 1634.7 1084.8 1636.3 1088.7 C1637.9 1092.7 1640.2 1092.3 1642.2 1094.6 C1644.2 1097.0 1644.4 1100.5 1646.1 1100.5 C1647.9 1097.4 1649.5 1087.1 1651.1 1078.9 C1652.6 1070.6 1652.8 1064.5 1654.0 1059.1 C1655.2 1053.8 1655.4 1052.2 1657.0 1052.2 C1658.6 1054.2 1660.6 1059.7 1661.9 1069.0 C1663.2 1078.3 1662.5 1084.8 1663.4 1098.6 C1664.3 1112.4 1665.1 1122.2 1666.3 1138.0 C1667.5 1153.8 1668.1 1161.6 1669.3 1177.4 C1670.5 1193.2 1671.3 1201.1 1672.3 1216.9 C1673.3 1232.7 1673.6 1240.5 1674.4 1256.3 C1675.2 1272.1 1675.7 1285.5 1676.4 1295.7 C1677.1 1305.9 1677.0 1303.8 1677.8 1307.5 C1678.6 1311.2 1679.3 1312.9 1680.5 1314.0 C1681.7 1314.0 1682.6 1313.0 1684.0 1313.0 C1685.4 1313.0 1686.4 1314.0 1687.5 1314.0 C1688.6 1312.2 1688.7 1310.8 1689.6 1304.0 C1690.5 1297.2 1691.2 1289.5 1691.8 1280.0 C1692.4 1270.5 1692.3 1268.9 1692.7 1256.3 C1693.1 1243.7 1693.2 1232.7 1693.6 1216.9 C1694.0 1201.1 1694.1 1193.2 1694.6 1177.4 C1695.1 1161.6 1695.3 1153.8 1696.0 1138.0 C1696.7 1122.2 1697.2 1114.4 1698.3 1098.6 C1699.4 1082.8 1700.3 1074.9 1701.3 1059.1 C1702.3 1043.3 1702.6 1031.5 1703.3 1019.7 C1704.0 1007.9 1704.5 1008.5 1705.0 1000.0 C1705.5 991.5 1705.1 986.3 1706.0 977.0 C1706.9 967.7 1707.5 960.1 1709.4 953.5 C1711.3 946.9 1711.9 946.0 1715.3 944.0 C1718.7 943.6 1723.2 944.0 1726.2 943.6 C1729.1 941.6 1728.7 940.9 1730.1 933.8 C1731.5 926.7 1731.5 915.6 1733.1 908.1 C1734.6 900.7 1736.2 899.9 1738.0 896.3 C1739.8 892.8 1740.4 894.3 1741.9 890.4 C1743.5 886.5 1744.1 881.1 1745.9 876.6 C1747.7 872.1 1748.4 870.1 1750.8 867.7 C1753.2 865.4 1755.5 867.7 1757.7 864.8 C1759.9 861.8 1760.1 856.3 1761.7 852.9 C1763.2 849.6 1764.0 848.0 1765.6 848.0 C1767.2 848.0 1768.0 848.8 1769.5 852.9 C1771.1 857.1 1772.2 859.6 1773.5 868.7 C1774.8 877.8 1775.2 884.5 1776.0 898.3 C1776.9 912.1 1777.2 921.9 1777.8 937.7 C1778.5 953.5 1778.8 964.7 1779.2 977.1 C1779.6 989.6 1779.7 985.6 1780.0 1000.0 C1780.3 1014.4 1780.4 1029.3 1780.8 1049.0 C1781.2 1068.7 1781.5 1078.7 1782.2 1098.5 C1782.9 1118.3 1783.4 1125.7 1784.2 1148.0 C1785.0 1170.3 1785.5 1190.2 1786.0 1210.0 C1786.5 1229.8 1786.3 1242.6 1786.7 1247.0 C1787.1 1247.0 1787.4 1245.4 1788.0 1232.0 C1788.6 1218.6 1789.0 1201.2 1789.5 1180.0 C1790.0 1158.8 1790.0 1142.4 1790.5 1126.0 C1791.0 1109.6 1791.5 1108.6 1792.2 1098.0 C1792.9 1087.4 1793.3 1082.8 1794.0 1073.0 C1794.7 1063.2 1795.0 1058.6 1795.8 1049.0 C1796.6 1039.4 1797.1 1034.8 1798.0 1025.0 C1798.9 1015.2 1799.3 1009.6 1800.2 1000.0 C1801.1 990.4 1801.6 985.0 1802.3 977.0 C1803.0 969.0 1803.3 975.7 1803.8 960.0 C1804.3 944.3 1804.2 916.5 1805.0 898.3 C1805.8 880.0 1806.6 875.8 1807.8 868.7 C1809.0 862.8 1809.7 862.8 1810.9 862.8 C1812.2 864.0 1812.9 865.6 1813.9 874.6 C1814.9 883.7 1814.9 893.6 1815.9 908.1 C1816.9 922.7 1817.6 934.4 1818.8 947.6 C1820.0 960.8 1820.6 971.0 1821.8 974.2 C1823.0 974.2 1823.6 974.2 1824.7 963.3 C1825.9 952.1 1826.5 932.6 1827.7 918.0 C1828.9 903.4 1829.3 899.1 1830.7 890.4 C1832.0 881.7 1833.2 878.2 1834.6 874.6 C1836.0 872.7 1836.0 872.7 1837.6 872.7 C1839.1 874.0 1839.9 880.7 1842.5 881.5 C1845.0 881.5 1847.2 877.4 1850.4 876.6 C1853.5 876.6 1855.7 877.6 1858.3 877.6 C1860.8 875.6 1861.6 869.7 1863.2 866.7 C1864.8 863.8 1864.0 862.8 1866.1 862.8 C1868.3 862.8 1871.3 864.8 1874.0 866.7 C1876.8 868.7 1877.8 868.7 1879.9 872.7 C1882.1 876.6 1882.9 881.3 1884.9 886.5 C1886.8 891.6 1888.2 892.0 1889.8 898.3 C1891.4 904.6 1891.8 911.9 1892.8 918.0 C1893.7 924.1 1893.5 928.8 1894.7 928.8 C1895.9 928.1 1897.1 918.2 1898.7 914.1 C1900.2 909.9 1901.2 908.1 1902.6 908.1 C1904.0 908.9 1904.5 912.1 1905.6 918.0 C1906.7 923.9 1907.2 929.8 1908.1 937.7 C1909.0 945.6 1909.3 947.6 1910.1 957.4 C1910.9 967.3 1911.4 974.5 1912.1 987.0 C1912.8 999.5 1912.9 1007.5 1913.6 1020.0 C1914.3 1032.5 1914.6 1033.6 1915.8 1049.3 C1917.0 1065.0 1918.3 1083.7 1919.5 1098.5 C1920.7 1113.3 1920.8 1115.9 1922.0 1123.2 C1923.2 1130.5 1924.2 1130.2 1925.5 1135.0 C1926.8 1139.8 1927.4 1142.6 1928.5 1147.0 C1929.6 1151.4 1929.9 1157.0 1930.8 1157.0 C1931.7 1156.2 1932.5 1148.8 1933.2 1143.0 C1933.9 1137.2 1933.7 1134.4 1934.2 1128.0 C1934.7 1121.6 1934.7 1121.6 1935.5 1110.8 C1936.3 1100.0 1936.8 1088.7 1938.0 1073.9 C1939.2 1059.1 1940.7 1048.7 1941.7 1036.9 C1942.7 1025.1 1942.7 1023.0 1943.2 1015.0 C1943.7 1007.0 1943.2 1003.0 1944.0 996.9 C1945.0 990.8 1946.2 986.4 1948.0 984.5 C1949.8 984.5 1950.9 986.2 1952.9 987.5 C1954.9 988.8 1956.1 990.1 1957.8 991.2 C1959.5 992.3 1960.6 992.6 1961.3 993.0"/>
</g>
<g fill="none" stroke-linejoin="round" stroke-linecap="butt" stroke-width="6.9" filter="url(#softer)">
<path stroke="#ff6400" d="M92.8 153.9 C95.0 154.4 98.7 155.9 103.7 156.5 C108.6 156.9 113.1 156.5 117.5 156.9 C121.8 157.4 122.2 158.9 125.3 159.3 C128.5 159.3 129.7 158.9 133.2 158.9 C136.8 159.8 139.3 163.4 143.1 163.8 C146.8 163.8 149.2 160.8 152.0 160.8 C154.7 161.4 154.5 166.7 156.9 166.7 C159.3 166.7 160.2 161.6 163.8 160.8 C167.3 160.8 170.5 161.8 174.6 162.8 C178.8 163.8 181.5 165.6 184.5 165.8 C187.4 165.8 186.7 163.8 189.4 163.8 C192.2 164.0 195.3 164.8 198.3 166.7 C201.2 168.7 201.0 172.5 204.2 173.6 C207.4 173.6 210.5 172.7 214.1 172.7 C217.6 172.8 218.8 174.2 221.9 174.2 C225.1 171.9 227.1 164.5 229.8 160.8 C232.6 157.2 233.2 155.9 235.7 155.9 C238.3 157.1 239.9 165.4 242.6 166.7 C245.4 166.7 246.2 163.2 249.5 162.8 C252.9 162.8 256.4 163.6 259.4 164.8 C262.4 166.0 262.6 168.7 264.3 168.7 C266.1 168.7 266.3 164.8 268.3 164.8 C270.2 166.9 270.8 176.0 274.2 179.6 C277.5 182.5 281.3 182.5 285.0 182.5 C288.8 181.7 290.5 175.6 292.9 175.6 C295.3 176.2 292.9 181.5 296.9 185.5 C300.8 189.4 307.7 189.6 312.6 195.3 C317.6 201.0 317.8 209.7 321.5 214.1 C325.2 217.0 328.0 214.8 331.4 217.0 C334.7 219.2 335.1 223.3 338.3 224.9 C341.4 224.9 344.0 224.9 347.1 224.9 C350.3 227.5 350.9 235.0 354.0 237.7 C357.2 238.7 359.7 237.7 362.9 238.7 C366.1 241.1 366.6 246.6 369.8 249.5 C373.0 252.5 375.7 250.7 378.7 253.5 C381.6 256.2 381.4 260.8 384.6 263.3 C387.7 265.9 391.1 264.3 394.4 266.3 C397.8 268.3 398.0 271.2 401.3 273.2 C404.7 275.2 407.5 276.0 411.2 276.2 C414.9 276.2 416.9 274.2 420.1 274.2 C423.2 274.6 423.6 277.1 427.0 278.1 C430.3 279.2 433.3 279.5 436.8 279.5 C440.4 279.1 441.2 277.2 444.7 276.2 C448.3 275.1 450.2 276.2 454.6 274.2 C458.9 272.2 461.3 269.7 466.4 266.3 C471.5 262.9 476.5 259.8 480.0 257.4 C483.5 255.1 481.0 256.6 483.7 254.5 C486.4 252.3 489.8 248.6 493.5 246.6 C497.3 244.6 498.4 246.6 502.4 244.6 C506.3 242.4 508.7 239.1 513.2 235.7 C517.8 232.4 520.7 231.4 525.1 227.9 C529.4 224.3 531.0 221.5 534.9 218.0 C538.9 214.5 541.2 213.7 544.8 210.1 C548.3 206.6 549.1 203.6 552.7 200.3 C556.2 196.9 558.6 196.5 562.5 193.4 C566.5 190.2 568.8 187.0 572.4 184.5 C575.9 181.9 576.7 182.1 580.3 180.5 C583.8 179.0 586.6 177.2 590.1 176.6 C593.7 176.6 594.6 177.6 598.0 177.6 C601.4 177.0 604.1 176.4 606.9 173.6 C609.6 170.9 610.0 166.3 611.8 163.8 C613.6 161.2 613.4 161.0 615.7 160.8 C618.1 160.8 620.9 161.4 623.6 162.8 C626.4 164.2 627.4 164.6 629.5 167.7 C631.7 170.9 632.7 172.5 634.5 178.6 C636.2 184.7 637.0 188.4 638.4 198.3 C639.8 208.1 640.4 216.0 641.4 227.9 C642.4 239.7 642.8 247.6 643.3 257.4 C643.9 267.3 643.7 270.2 644.3 277.1 C644.9 284.0 645.3 291.9 646.3 291.9 C647.3 291.9 648.1 282.5 649.3 277.1 C650.4 271.8 651.0 267.9 652.2 265.3 C653.4 264.3 654.0 264.3 655.2 264.3 C656.4 265.1 656.9 264.3 658.1 269.3 C659.3 274.2 659.9 281.5 661.1 289.0 C662.3 296.5 662.7 301.8 664.0 306.7 C665.4 311.6 666.4 313.6 668.0 313.6 C669.6 313.6 670.3 312.0 671.9 306.7 C673.5 301.4 674.5 294.9 675.9 287.0 C677.2 279.1 677.4 274.4 678.8 267.3 C680.2 260.2 681.0 256.0 682.8 251.5 C684.5 247.0 685.7 245.6 687.7 244.6 C689.7 244.6 690.5 245.2 692.6 246.6 C694.8 248.0 696.2 250.3 698.5 251.5 C700.9 252.5 702.5 252.5 704.5 252.5 C706.4 251.3 707.2 252.5 708.4 245.6 C709.6 238.7 709.2 227.9 710.4 218.0 C711.6 208.1 712.3 203.4 714.3 196.3 C716.3 189.2 717.1 187.6 720.2 182.5 C723.4 177.4 726.1 175.0 730.1 170.7 C734.0 166.3 736.0 164.2 739.9 160.8 C743.9 157.5 745.9 155.8 749.8 153.9 C753.7 152.0 756.3 152.2 759.7 151.4 C763.0 150.6 763.8 150.0 766.6 150.0 C769.3 150.4 770.1 152.9 773.5 153.3 C776.8 153.3 779.4 152.5 783.3 152.0 C787.3 151.4 789.2 150.6 793.2 150.6 C797.1 150.8 799.1 151.8 803.0 152.9 C807.0 154.1 809.3 156.1 812.9 156.5 C816.4 156.5 817.2 155.4 820.8 154.9 C824.3 154.4 827.1 153.9 830.6 153.9 C834.2 154.1 835.0 155.3 838.5 155.9 C842.1 156.5 844.1 156.9 848.4 156.9 C852.7 156.7 856.5 154.9 860.0 154.9 C863.5 155.0 861.7 156.5 865.6 157.3 C869.5 158.1 874.9 157.8 879.4 158.9 C884.0 160.0 884.0 162.4 888.3 162.8 C892.6 162.8 897.0 160.8 901.1 160.8 C905.3 160.8 906.2 162.8 909.0 162.8 C911.8 162.7 911.8 160.4 914.9 160.4 C918.1 160.4 920.8 162.0 924.8 162.8 C928.7 163.6 930.3 164.4 934.6 164.4 C939.0 164.4 941.7 162.8 946.5 162.8 C951.2 163.3 954.5 166.5 958.3 166.7 C962.0 166.7 961.2 163.8 965.2 163.8 C969.1 164.6 973.3 168.9 978.0 170.7 C982.7 172.5 984.1 172.7 988.8 172.7 C993.6 171.9 997.7 167.5 1001.7 166.7 C1005.6 166.7 1005.4 168.7 1008.6 168.7 C1011.7 167.9 1014.5 164.4 1017.4 162.8 C1020.4 161.2 1020.6 160.8 1023.3 160.8 C1026.1 161.6 1028.1 166.0 1031.2 166.7 C1034.4 166.7 1036.2 164.8 1039.1 164.8 C1042.1 166.9 1043.3 174.4 1046.0 177.6 C1048.8 180.5 1050.2 177.6 1052.9 180.5 C1055.7 183.5 1057.1 192.0 1059.8 192.4 C1062.6 192.4 1063.8 185.7 1066.7 182.5 C1069.7 179.4 1071.2 180.0 1074.6 176.6 C1077.9 173.2 1080.1 167.1 1083.5 165.8 C1086.8 165.8 1088.4 169.7 1091.4 169.7 C1094.3 169.7 1094.9 166.5 1098.3 165.8 C1101.6 165.8 1104.0 165.8 1108.1 165.8 C1112.3 166.9 1115.8 171.7 1119.0 171.7 C1122.1 171.7 1121.3 167.9 1123.9 165.8 C1126.4 163.6 1128.6 164.0 1131.8 160.8 C1134.9 157.7 1136.5 150.4 1139.7 150.0 C1142.8 150.0 1144.2 157.3 1147.5 158.9 C1150.9 158.9 1153.7 157.9 1156.4 157.9 C1159.2 160.8 1158.0 171.3 1161.3 173.6 C1164.7 173.6 1169.4 173.6 1173.2 169.7 C1176.9 165.8 1176.7 154.9 1180.1 153.9 C1183.4 153.9 1186.6 163.2 1189.9 164.8 C1193.3 164.8 1194.3 161.8 1196.8 161.8 C1199.4 162.2 1200.4 166.3 1202.7 166.7 C1205.1 166.7 1205.9 163.8 1208.7 163.8 C1211.4 164.6 1213.6 170.7 1216.5 170.7 C1219.5 170.7 1220.9 164.4 1223.4 163.8 C1226.0 163.8 1226.0 167.7 1229.4 167.7 C1232.7 167.5 1235.6 164.0 1240.0 162.8 C1244.4 161.8 1247.3 162.8 1251.5 161.8 C1255.8 160.4 1258.2 158.1 1261.4 155.9 C1264.6 153.7 1264.8 153.3 1267.3 151.0 C1269.9 148.6 1271.7 145.5 1274.2 144.1 C1276.8 143.6 1278.1 143.6 1280.0 143.6 C1281.9 145.0 1282.1 143.6 1283.5 150.7 C1285.0 157.8 1285.6 167.5 1287.1 179.1 C1288.6 190.7 1289.7 196.8 1291.2 208.7 C1292.8 220.5 1293.5 226.4 1294.8 238.2 C1296.1 250.0 1296.8 258.3 1297.7 267.8 C1298.7 277.2 1298.7 278.4 1299.5 285.5 C1300.3 292.6 1301.0 298.0 1301.9 303.3 C1302.7 308.5 1302.9 309.3 1303.6 311.5 C1304.4 313.8 1304.9 314.6 1305.8 314.6 C1306.6 313.7 1306.9 311.0 1307.8 306.8 C1308.7 302.6 1308.8 297.6 1310.1 293.8 C1311.4 290.0 1312.5 290.2 1314.3 287.9 C1316.1 285.5 1317.7 286.0 1319.0 282.0 C1320.4 278.0 1320.4 274.2 1321.0 267.8 C1321.6 261.4 1321.5 260.7 1322.0 250.0 C1322.4 239.4 1322.6 226.4 1323.3 214.6 C1324.0 202.8 1324.4 199.2 1325.5 190.9 C1326.6 182.7 1327.4 178.9 1328.7 173.2 C1330.0 167.5 1330.8 165.4 1332.0 162.6 C1333.3 159.7 1333.8 159.0 1335.0 159.0 C1336.2 159.3 1336.9 160.4 1337.9 163.7 C1339.0 167.1 1339.3 170.1 1340.3 175.6 C1341.2 181.0 1341.7 184.3 1342.7 190.9 C1343.6 197.6 1344.1 202.0 1345.0 208.7 C1346.0 215.3 1346.4 219.4 1347.4 224.0 C1348.3 228.7 1348.8 231.3 1349.8 231.7 C1350.7 231.7 1351.2 230.3 1352.1 226.4 C1353.1 222.5 1353.7 219.3 1354.5 212.2 C1355.3 205.1 1355.5 198.3 1356.3 190.9 C1357.0 183.6 1357.2 180.4 1358.0 175.6 C1358.9 170.7 1359.4 168.8 1360.4 166.7 C1361.3 164.9 1361.8 164.9 1362.8 164.9 C1363.7 165.5 1364.3 165.6 1365.1 169.7 C1366.0 173.7 1366.3 178.4 1366.9 185.0 C1367.5 191.6 1367.7 194.5 1368.1 202.8 C1368.5 211.0 1368.6 216.9 1368.9 226.4 C1369.3 235.9 1369.5 242.2 1369.9 250.0 C1370.2 257.9 1370.4 261.0 1370.8 265.4 C1371.2 269.8 1371.5 271.9 1372.0 271.9 C1372.5 271.9 1372.9 269.8 1373.4 265.4 C1373.9 261.0 1374.2 256.7 1374.6 250.0 C1375.0 243.4 1375.0 237.0 1375.4 232.3 C1375.8 227.6 1375.9 227.8 1376.7 226.4 C1377.5 225.2 1378.3 225.2 1379.3 225.2 C1380.3 226.6 1380.8 229.0 1381.7 233.5 C1382.5 238.0 1382.7 244.4 1383.4 247.7 C1384.2 250.0 1384.5 250.0 1385.2 250.0 C1385.9 249.3 1386.4 248.9 1387.0 244.1 C1387.6 239.4 1387.5 233.5 1388.2 226.4 C1388.9 219.3 1389.5 215.8 1390.5 208.7 C1391.6 201.6 1392.2 197.3 1393.5 190.9 C1394.8 184.6 1395.6 182.0 1397.0 176.7 C1398.5 171.5 1398.9 169.2 1400.6 164.9 C1402.2 160.7 1403.3 158.0 1405.3 155.5 C1407.3 153.0 1408.6 152.6 1410.6 152.5 C1412.7 152.5 1414.0 153.3 1415.4 154.9 C1416.7 156.4 1417.0 155.3 1417.5 160.2 C1417.9 165.0 1417.8 163.5 1417.9 179.1 C1417.9 194.7 1417.9 210.8 1417.9 238.2 C1417.9 265.6 1417.9 287.8 1417.9 316.1 C1418.1 344.5 1418.5 359.6 1419.0 380.0 C1419.5 400.4 1419.9 405.0 1420.5 418.0 C1421.1 431.0 1421.1 436.4 1421.8 445.0 C1422.5 453.6 1423.0 461.0 1423.8 461.0 C1424.6 461.0 1425.1 453.6 1425.8 445.0 C1426.5 436.4 1426.7 431.0 1427.3 418.0 C1427.9 405.0 1428.3 400.4 1428.8 380.0 C1429.3 359.6 1429.3 344.5 1429.6 316.1 C1429.8 287.8 1429.8 260.9 1430.1 238.2 C1430.5 215.6 1430.6 214.6 1431.3 202.8 C1432.0 190.9 1432.6 185.7 1433.7 179.1 C1434.8 172.5 1435.5 170.1 1436.7 169.7 C1437.8 169.7 1438.5 172.5 1439.6 176.7 C1440.7 181.0 1441.0 184.6 1442.0 190.9 C1442.9 197.3 1443.4 201.6 1444.3 208.7 C1445.3 215.8 1445.8 220.5 1446.7 226.4 C1447.6 232.3 1448.0 234.6 1449.1 238.2 C1450.1 241.9 1450.7 244.3 1452.0 244.7 C1453.3 244.7 1454.3 243.3 1455.6 240.6 C1456.9 237.9 1457.3 235.6 1458.5 231.1 C1459.7 226.6 1460.4 223.3 1461.5 218.1 C1462.5 212.9 1462.9 210.1 1463.8 205.1 C1464.8 200.2 1465.3 197.0 1466.2 193.3 C1467.2 189.6 1467.4 187.3 1468.6 186.8 C1469.8 186.8 1470.8 189.3 1472.1 190.9 C1473.4 192.6 1473.8 195.1 1475.1 195.1 C1476.4 194.8 1477.4 192.2 1478.6 189.8 C1479.8 187.3 1480.0 184.6 1481.0 182.7 C1481.9 180.8 1482.3 180.3 1483.3 180.3 C1484.4 181.5 1485.2 185.3 1486.3 188.6 C1487.4 191.9 1487.7 194.2 1488.7 196.8 C1489.6 199.4 1490.0 201.6 1491.0 201.6 C1492.1 201.6 1492.9 199.0 1494.0 196.8 C1495.1 194.7 1495.2 192.6 1496.4 190.9 C1497.5 189.3 1498.6 190.0 1499.9 188.6 C1501.2 187.2 1501.9 188.1 1502.9 183.8 C1503.8 179.6 1503.8 173.0 1504.6 167.3 C1505.5 161.6 1505.9 158.7 1507.0 155.5 C1508.1 152.3 1508.5 151.3 1510.0 151.3 C1511.4 151.3 1512.1 153.9 1514.1 155.5 C1516.1 157.0 1518.1 158.3 1520.0 159.0 C1521.9 159.0 1522.1 158.9 1523.6 158.9 C1525.1 160.8 1526.0 162.4 1527.5 168.7 C1529.1 175.0 1529.9 181.3 1531.5 190.4 C1533.1 199.5 1533.7 210.1 1535.4 214.1 C1537.2 214.1 1538.8 214.1 1540.4 210.1 C1541.9 203.8 1542.1 190.4 1543.3 182.5 C1544.5 174.6 1545.2 170.7 1546.3 170.7 C1547.4 170.7 1548.1 175.0 1548.8 182.5 C1549.6 190.0 1549.8 198.6 1550.0 208.1 C1550.0 217.6 1550.0 219.4 1550.0 230.0 C1550.1 240.6 1550.1 230.8 1550.5 261.0 C1550.9 291.2 1551.3 343.4 1552.1 381.0 C1552.9 418.6 1553.7 427.2 1554.5 449.0 C1555.3 470.8 1555.7 476.8 1556.3 490.0 C1556.9 503.2 1556.6 511.0 1557.4 515.0 C1558.2 515.0 1559.2 512.8 1560.5 510.0 C1561.8 507.2 1562.2 510.0 1564.0 501.0 C1565.8 492.0 1568.2 475.2 1569.5 464.8 C1570.5 454.4 1569.8 452.8 1570.5 449.0 C1571.2 446.0 1571.2 446.6 1573.0 446.0 C1574.8 446.0 1577.8 446.0 1579.5 446.0 C1581.2 442.8 1580.9 435.8 1581.5 430.0 C1582.1 424.2 1582.0 426.8 1582.3 417.0 C1582.6 407.2 1582.8 398.6 1583.2 381.0 C1583.6 363.4 1583.7 345.2 1584.5 329.0 C1585.3 312.8 1586.1 308.2 1587.0 300.0 C1587.9 291.8 1588.3 288.0 1589.2 288.0 C1590.1 288.0 1590.5 288.0 1591.3 300.0 C1592.1 312.4 1592.3 330.0 1593.0 350.0 C1593.7 370.0 1594.1 383.4 1595.0 400.0 C1595.9 416.6 1596.5 429.6 1597.5 433.0 C1598.5 433.0 1599.2 429.6 1599.8 417.0 C1600.4 404.4 1600.2 394.0 1600.5 370.0 C1600.8 346.0 1600.9 321.0 1601.3 297.0 C1601.7 273.0 1602.1 267.6 1602.7 250.0 C1603.3 232.4 1603.3 223.0 1604.2 209.0 C1605.1 195.0 1605.6 189.0 1607.0 180.0 C1608.4 171.0 1609.7 164.0 1611.4 164.0 C1613.1 164.0 1614.1 171.0 1615.5 180.0 C1616.9 189.0 1617.2 192.8 1618.5 209.0 C1619.8 225.2 1620.4 238.8 1622.0 261.0 C1623.6 283.2 1624.5 296.0 1626.5 320.0 C1628.5 344.0 1630.2 361.6 1631.9 381.0 C1633.6 400.4 1633.9 403.4 1635.0 417.0 C1636.1 430.6 1636.4 436.4 1637.4 449.0 C1638.4 461.6 1639.0 469.6 1639.8 480.0 C1640.6 490.4 1640.6 492.0 1641.4 501.0 C1642.2 510.0 1642.9 518.0 1644.0 525.0 C1645.1 532.0 1645.6 536.0 1647.0 536.0 C1648.4 535.0 1649.6 529.2 1651.0 520.0 C1652.4 510.8 1652.6 499.0 1654.0 490.0 C1655.4 481.0 1656.4 475.0 1658.0 475.0 C1659.6 475.0 1660.6 481.0 1662.0 490.0 C1663.4 499.0 1663.9 510.2 1665.0 520.0 C1666.1 529.8 1666.6 527.4 1667.4 539.1 C1668.3 550.9 1668.6 562.8 1669.4 578.6 C1670.2 594.3 1670.6 602.2 1671.4 618.0 C1672.2 633.8 1672.4 641.7 1673.4 657.4 C1674.3 673.2 1675.1 681.1 1676.3 696.9 C1677.5 712.6 1678.1 723.7 1679.3 736.3 C1680.5 748.9 1681.0 753.4 1682.2 759.9 C1683.5 766.4 1684.2 768.8 1685.6 768.8 C1687.0 768.0 1688.0 766.4 1689.1 756.0 C1690.2 745.5 1690.5 732.3 1691.1 716.6 C1691.7 700.8 1691.7 692.9 1692.1 677.1 C1692.5 661.4 1692.7 653.5 1693.1 637.7 C1693.5 621.9 1693.7 614.1 1694.1 598.3 C1694.5 582.5 1694.7 574.6 1695.0 558.9 C1695.4 543.1 1695.4 535.2 1695.6 519.4 C1695.8 503.7 1695.6 502.5 1696.0 480.0 C1696.4 457.5 1696.7 431.9 1697.6 407.1 C1698.5 382.3 1699.2 378.0 1700.5 356.0 C1701.9 334.0 1702.9 316.6 1704.5 296.9 C1706.1 277.1 1706.9 269.7 1708.4 257.4 C1710.0 245.2 1710.1 240.4 1712.4 235.7 C1714.7 233.9 1717.2 234.4 1720.0 233.9 C1722.8 233.4 1724.1 233.9 1726.2 233.3 C1728.3 231.9 1729.2 231.3 1730.5 227.1 C1731.7 223.0 1731.6 217.8 1732.3 212.4 C1733.1 206.9 1733.2 205.0 1734.2 200.0 C1735.1 195.1 1736.0 193.2 1737.2 187.7 C1738.5 182.3 1739.0 178.4 1740.3 173.0 C1741.7 167.5 1742.5 164.1 1744.0 160.6 C1745.5 157.2 1746.4 156.7 1747.7 155.7 C1749.1 155.7 1749.6 155.7 1750.8 155.7 C1752.0 156.9 1752.6 158.4 1753.9 161.9 C1755.1 165.3 1755.8 169.0 1756.9 173.0 C1758.1 176.9 1758.4 179.4 1759.4 181.6 C1760.4 183.8 1760.8 184.0 1761.9 184.0 C1763.0 183.8 1763.8 182.8 1765.0 180.3 C1766.1 177.9 1766.7 176.4 1767.4 171.7 C1768.2 167.0 1768.0 161.3 1768.6 156.9 C1769.3 152.6 1769.6 151.7 1770.5 150.2 C1771.4 149.6 1772.0 149.6 1773.0 149.6 C1773.9 150.7 1774.6 150.5 1775.4 155.7 C1776.2 160.9 1776.3 165.3 1776.9 175.4 C1777.5 185.5 1777.8 192.7 1778.4 206.2 C1779.0 219.8 1779.4 228.4 1779.9 243.2 C1780.3 257.9 1780.5 263.9 1780.8 280.1 C1781.2 296.3 1781.4 308.3 1781.6 324.3 C1781.6 340.3 1781.6 340.9 1781.6 360.0 C1781.8 379.1 1782.1 400.0 1782.5 420.0 C1782.9 440.0 1783.0 443.2 1783.5 460.0 C1784.0 476.8 1784.5 488.0 1784.8 504.0 C1785.1 520.0 1785.1 528.4 1785.2 540.0 C1785.3 551.6 1785.2 555.2 1785.5 562.0 C1785.9 568.8 1785.8 571.8 1787.0 574.0 C1788.2 574.0 1790.3 573.0 1791.6 573.0 C1792.9 575.2 1792.9 579.6 1793.5 585.0 C1794.1 590.4 1794.2 589.4 1794.8 600.0 C1795.4 610.6 1795.9 622.6 1796.6 638.0 C1797.3 653.4 1797.7 661.7 1798.3 677.0 C1798.9 692.3 1799.0 710.0 1799.5 714.6 C1800.0 714.6 1800.4 707.5 1801.0 700.0 C1801.6 692.5 1801.9 689.4 1802.5 677.0 C1803.1 664.6 1803.7 653.8 1804.2 638.0 C1804.7 622.2 1804.9 617.6 1805.2 598.0 C1805.5 578.4 1805.5 558.8 1805.6 540.0 C1805.7 521.2 1805.6 520.0 1805.8 504.0 C1806.0 488.0 1806.4 476.8 1806.8 460.0 C1807.2 443.2 1807.4 440.0 1807.8 420.0 C1808.2 400.0 1808.6 379.1 1809.0 360.0 C1809.4 340.9 1809.2 342.8 1809.7 324.3 C1810.1 305.9 1810.7 282.5 1811.4 267.8 C1812.0 253.0 1812.3 255.1 1813.0 250.5 C1813.7 246.0 1814.0 245.0 1814.8 245.0 C1815.7 246.5 1816.3 251.2 1817.3 257.9 C1818.3 264.7 1818.6 275.7 1819.8 278.9 C1820.9 278.9 1821.8 278.6 1822.8 273.9 C1823.8 269.3 1824.1 264.1 1824.7 255.5 C1825.3 246.8 1825.2 243.2 1825.9 230.8 C1826.7 218.5 1827.4 207.9 1828.4 193.9 C1829.4 179.9 1829.9 167.9 1830.8 160.6 C1831.8 157.6 1831.8 157.9 1833.3 157.6 C1834.8 157.6 1836.3 158.8 1838.2 158.8 C1840.2 158.8 1841.4 158.8 1843.2 157.6 C1844.9 156.2 1845.4 152.1 1846.8 152.0 C1848.3 152.0 1849.3 153.0 1850.5 156.9 C1851.8 160.9 1851.8 167.3 1853.0 171.7 C1854.2 176.2 1855.2 176.9 1856.7 179.1 C1858.2 181.3 1858.9 182.8 1860.4 182.8 C1861.9 182.6 1862.6 180.6 1864.1 177.9 C1865.6 175.2 1866.3 171.5 1867.8 169.3 C1869.3 167.0 1869.8 167.0 1871.5 166.8 C1873.2 166.8 1874.9 168.0 1876.4 168.0 C1877.9 166.1 1877.9 161.4 1878.9 156.9 C1879.9 152.5 1879.4 149.3 1881.3 145.9 C1883.3 142.4 1886.0 140.8 1888.7 139.7 C1891.4 139.7 1892.4 140.3 1894.9 140.3 C1897.3 140.1 1899.1 138.5 1901.0 138.5 C1903.0 138.8 1903.6 138.5 1904.7 142.2 C1905.8 146.5 1905.7 152.4 1906.5 160.0 C1907.3 167.6 1907.7 172.0 1908.5 180.0 C1909.3 188.0 1909.8 192.0 1910.5 200.0 C1911.2 208.0 1911.3 212.0 1912.0 220.0 C1912.7 228.0 1912.8 230.1 1913.8 240.0 C1914.8 249.9 1915.7 257.8 1917.0 269.6 C1918.3 281.4 1919.0 288.4 1920.5 299.0 C1922.0 309.6 1923.3 314.5 1924.5 322.7 C1925.7 330.9 1925.5 332.9 1926.3 340.0 C1927.1 347.1 1927.3 351.1 1928.3 358.0 C1929.3 364.9 1930.1 374.5 1931.3 374.5 C1932.5 374.5 1933.5 364.9 1934.3 358.0 C1935.1 351.1 1935.0 345.9 1935.3 340.0 C1935.6 334.1 1935.7 335.7 1936.0 328.7 C1936.3 321.7 1936.2 314.5 1936.8 305.0 C1937.4 295.5 1938.0 289.7 1938.8 281.4 C1939.6 273.1 1940.2 268.9 1941.0 263.6 C1941.8 258.3 1942.0 257.5 1942.7 254.8 C1943.4 252.1 1943.3 251.4 1944.5 250.0 C1945.7 248.6 1946.7 249.0 1948.7 247.7 C1950.7 246.4 1952.1 245.0 1954.6 243.5 C1957.1 242.0 1960.0 240.7 1961.3 240.0"/>
<path stroke="#008adc" d="M92.8 853.9 C95.0 854.3 99.3 854.9 103.7 855.9 C108.0 856.9 111.0 858.7 114.5 858.9 C118.0 858.9 118.4 856.9 121.4 856.9 C124.4 856.9 125.7 857.3 129.3 858.9 C132.8 860.4 136.0 864.6 139.1 864.8 C142.3 864.8 142.5 860.6 145.1 859.8 C147.6 859.8 149.6 859.8 152.0 860.8 C154.3 862.4 154.7 867.7 156.9 867.7 C159.1 867.7 160.4 861.6 162.8 860.8 C165.2 860.8 166.5 863.8 168.7 863.8 C170.9 863.4 171.3 859.1 173.6 858.9 C176.0 858.9 178.0 860.8 180.5 862.8 C183.1 864.8 184.1 868.1 186.5 868.7 C188.8 868.7 190.0 866.9 192.4 865.8 C194.7 864.6 195.9 862.8 198.3 862.8 C200.7 863.6 201.0 868.7 204.2 869.7 C207.4 869.7 210.5 867.9 214.1 867.7 C217.6 867.7 219.6 868.7 221.9 868.7 C224.3 866.3 224.3 858.9 225.9 855.9 C227.5 853.9 227.9 853.9 229.8 853.9 C231.8 853.9 233.4 854.5 235.7 855.9 C238.1 857.3 238.9 859.6 241.7 860.8 C244.4 861.8 246.8 861.0 249.5 861.8 C252.3 862.6 253.3 864.8 255.5 864.8 C257.6 864.2 258.0 860.0 260.4 858.9 C262.8 858.9 264.7 858.9 267.3 858.9 C269.8 862.8 270.8 875.6 273.2 878.6 C275.6 878.6 276.7 873.6 279.1 873.6 C281.5 876.0 282.3 887.8 285.0 890.4 C287.8 890.4 290.2 886.5 292.9 886.5 C295.7 888.0 295.7 893.6 298.8 898.3 C302.0 903.0 305.1 904.6 308.7 910.1 C312.2 915.6 313.0 920.0 316.6 925.9 C320.1 931.8 322.5 934.6 326.4 939.7 C330.4 944.8 332.3 947.2 336.3 951.5 C340.2 955.9 342.6 958.2 346.1 961.4 C349.7 964.5 351.3 964.1 354.0 967.3 C356.8 970.4 356.8 974.0 359.9 977.1 C363.1 980.3 365.9 979.9 369.8 983.1 C373.7 986.2 375.7 988.6 379.7 992.9 C383.6 997.2 385.6 1000.8 389.5 1004.7 C393.5 1008.7 395.8 1009.5 399.4 1012.6 C402.9 1015.8 403.3 1017.4 407.3 1020.5 C411.2 1023.7 414.0 1026.8 419.1 1028.4 C424.2 1028.4 427.4 1028.4 432.9 1028.4 C438.4 1027.6 441.6 1027.0 446.7 1024.5 C451.8 1021.9 453.8 1018.9 458.5 1015.6 C463.2 1012.2 466.0 1011.4 470.3 1007.7 C474.6 1004.0 477.3 1000.2 480.0 996.9 C482.7 993.5 481.0 994.5 483.7 990.9 C486.4 987.4 489.2 983.4 493.5 979.1 C497.9 974.8 500.6 974.0 505.3 969.3 C510.1 964.5 512.4 961.4 517.2 955.5 C521.9 949.5 524.7 946.0 529.0 939.7 C533.3 933.4 535.3 930.2 538.9 923.9 C542.4 917.6 543.2 914.1 546.7 908.1 C550.3 902.2 552.7 899.5 556.6 894.3 C560.5 889.2 562.9 886.9 566.5 882.5 C570.0 878.2 571.6 875.4 574.3 872.7 C577.1 869.9 577.1 870.1 580.3 868.7 C583.4 867.3 586.2 867.3 590.1 865.8 C594.1 864.2 596.4 863.0 600.0 860.8 C603.5 858.7 604.9 856.9 607.9 854.9 C610.8 852.9 612.0 851.2 614.8 851.0 C617.5 851.0 618.7 851.6 621.7 853.9 C624.6 856.3 627.0 857.9 629.5 862.8 C632.1 867.7 632.9 870.7 634.5 878.6 C636.0 886.5 636.2 890.4 637.4 902.2 C638.6 914.1 639.2 924.7 640.4 937.7 C641.6 950.7 642.0 957.0 643.3 967.3 C644.7 977.5 644.9 983.4 647.3 989.0 C649.7 994.5 653.0 991.3 655.2 994.9 C657.3 998.4 656.9 998.4 658.1 1006.7 C659.3 1015.0 659.9 1024.5 661.1 1036.3 C662.3 1048.1 662.8 1056.8 664.0 1065.9 C665.3 1074.9 666.0 1081.6 667.4 1081.6 C668.8 1081.6 669.6 1074.9 670.9 1065.9 C672.2 1056.8 672.7 1048.1 673.9 1036.3 C675.1 1024.5 675.5 1017.4 676.9 1006.7 C678.2 996.1 679.2 990.0 680.8 983.1 C682.4 976.2 683.4 974.8 684.7 972.2 C686.1 970.2 686.3 970.2 687.7 970.2 C689.1 971.2 689.5 974.8 691.6 977.1 C693.8 979.5 695.8 980.9 698.5 982.1 C701.3 983.1 703.4 983.1 705.4 983.1 C707.5 980.1 707.8 976.4 708.8 967.3 C709.8 958.2 709.5 949.5 710.4 937.7 C711.3 925.9 711.9 918.4 713.3 908.1 C714.7 897.9 715.1 894.3 717.3 886.5 C719.4 878.6 720.8 874.4 724.2 868.7 C727.5 863.0 729.7 861.2 734.0 857.9 C738.4 854.5 740.7 852.9 745.9 852.0 C751.0 852.0 754.3 852.4 759.7 852.9 C765.0 853.5 767.7 854.9 772.5 854.9 C777.2 854.7 778.8 852.7 783.3 852.0 C787.8 851.4 790.4 851.4 795.1 851.4 C799.9 851.6 802.2 852.0 807.0 852.9 C811.7 853.8 814.9 855.8 818.8 855.9 C822.7 855.9 823.1 853.7 826.7 853.3 C830.2 853.3 832.2 853.3 836.5 853.9 C840.9 854.6 843.7 856.5 848.4 856.9 C853.1 856.9 856.2 855.9 860.0 855.9 C863.8 856.3 862.9 858.6 867.6 858.9 C872.3 858.9 878.4 857.3 883.4 857.3 C888.3 857.9 888.3 861.7 892.2 861.8 C896.2 861.8 898.9 859.3 903.1 857.9 C907.2 856.5 909.6 854.9 912.9 854.9 C916.3 855.1 917.1 858.5 919.8 858.9 C922.6 858.9 924.0 856.9 926.7 856.9 C929.5 856.9 930.9 858.9 933.6 858.9 C936.4 858.3 937.4 854.5 940.5 853.9 C943.7 853.9 945.9 854.5 949.4 855.9 C953.0 857.3 955.3 860.4 958.3 860.8 C961.2 860.8 961.8 860.2 964.2 857.9 C966.6 855.5 967.9 850.8 970.1 849.0 C972.3 849.0 972.7 849.0 975.0 849.0 C977.4 850.4 979.0 851.8 981.9 855.9 C984.9 860.0 986.3 868.3 989.8 869.7 C993.4 869.7 996.1 864.2 999.7 862.8 C1003.2 862.8 1004.0 862.8 1007.6 862.8 C1011.1 862.2 1013.9 862.8 1017.4 859.8 C1021.0 856.9 1022.8 848.6 1025.3 848.0 C1027.9 848.0 1027.5 854.3 1030.2 856.9 C1033.0 859.4 1036.2 856.9 1039.1 860.8 C1042.1 865.2 1043.1 871.5 1045.0 878.6 C1047.0 885.7 1047.6 889.6 1049.0 896.3 C1050.3 903.0 1050.3 908.5 1051.9 912.1 C1053.5 914.1 1054.7 912.5 1056.9 914.1 C1059.0 915.6 1060.4 920.0 1062.8 920.0 C1065.1 918.8 1066.3 912.1 1068.7 908.1 C1071.0 904.2 1072.8 905.4 1074.6 900.3 C1076.4 895.1 1076.6 888.8 1077.6 882.5 C1078.5 876.2 1077.8 873.6 1079.5 868.7 C1081.3 863.8 1083.9 859.3 1086.4 857.9 C1089.0 857.9 1089.6 860.6 1092.3 861.8 C1095.1 863.0 1097.5 863.8 1100.2 863.8 C1103.0 863.2 1103.2 858.9 1106.1 858.9 C1109.1 859.8 1111.9 868.7 1115.0 868.7 C1118.2 868.7 1119.3 859.3 1121.9 858.9 C1124.5 858.9 1125.5 863.0 1127.8 866.7 C1130.2 870.5 1131.4 877.6 1133.7 877.6 C1136.1 877.2 1137.3 868.9 1139.7 864.8 C1142.0 860.6 1142.8 856.9 1145.6 856.9 C1148.3 857.3 1149.9 866.7 1153.5 866.7 C1157.0 866.3 1160.2 854.9 1163.3 854.9 C1166.5 855.7 1166.5 869.1 1169.2 870.7 C1172.0 870.7 1174.5 866.7 1177.1 862.8 C1179.7 858.9 1178.9 852.5 1182.0 851.0 C1185.2 851.0 1188.9 854.7 1192.9 854.9 C1196.8 854.9 1198.6 852.0 1201.8 852.0 C1204.9 852.2 1205.7 854.5 1208.7 855.9 C1211.6 857.3 1213.6 858.9 1216.5 858.9 C1219.5 858.3 1221.5 855.3 1223.4 852.9 C1225.4 850.6 1224.8 847.0 1226.4 847.0 C1228.0 847.6 1228.6 855.9 1231.3 855.9 C1234.0 855.9 1237.1 848.4 1240.0 847.0 C1242.9 847.0 1243.1 847.8 1245.6 849.0 C1248.1 850.2 1249.8 851.0 1252.5 852.9 C1255.3 854.9 1256.5 858.9 1259.4 858.9 C1262.4 857.3 1264.4 850.0 1267.3 845.1 C1270.3 840.1 1271.7 837.6 1274.2 834.2 C1276.8 830.9 1278.4 828.3 1280.1 828.3 C1281.9 828.3 1282.0 828.8 1283.0 834.2 C1283.9 839.6 1284.0 846.5 1284.7 855.5 C1285.4 864.5 1285.7 868.5 1286.5 879.1 C1287.3 889.8 1287.7 896.8 1288.5 908.7 C1289.3 920.5 1289.9 927.6 1290.6 938.2 C1291.4 948.9 1291.6 952.4 1292.2 961.9 C1292.8 971.3 1293.0 976.1 1293.6 985.5 C1294.2 995.0 1294.8 1006.3 1295.1 1009.2 C1295.1 1009.2 1295.1 1000.0 1295.1 1000.0 C1295.7 1005.3 1296.6 1022.5 1297.7 1035.5 C1298.8 1048.5 1299.6 1055.6 1300.7 1065.0 C1301.8 1074.5 1302.2 1077.1 1303.1 1082.8 C1303.9 1088.4 1303.8 1092.5 1304.8 1093.4 C1305.9 1093.4 1306.5 1089.6 1308.4 1087.5 C1310.3 1085.4 1312.0 1083.9 1314.3 1082.8 C1316.5 1081.6 1318.2 1082.8 1319.6 1081.6 C1321.0 1079.2 1320.8 1077.8 1321.4 1070.9 C1321.9 1064.1 1321.9 1056.7 1322.3 1047.3 C1322.8 1037.8 1323.1 1033.1 1323.5 1023.6 C1323.9 1014.2 1324.1 1011.2 1324.5 1000.0 C1324.8 988.8 1324.8 980.1 1325.4 967.8 C1326.0 955.4 1326.6 948.9 1327.3 938.2 C1328.0 927.6 1328.4 924.0 1329.1 914.6 C1329.8 905.1 1330.0 900.4 1330.8 890.9 C1331.7 881.5 1332.3 873.9 1333.2 867.3 C1334.1 860.7 1334.7 860.0 1335.6 857.8 C1336.4 856.7 1336.6 856.7 1337.3 856.7 C1338.0 858.5 1338.3 858.1 1339.1 867.3 C1339.9 876.5 1340.4 888.6 1341.5 902.8 C1342.5 916.9 1343.3 925.2 1344.4 938.2 C1345.6 951.2 1346.3 959.5 1347.4 967.8 C1348.5 976.1 1348.9 976.9 1349.8 979.6 C1350.6 981.4 1350.7 981.4 1351.5 981.4 C1352.4 981.1 1352.9 981.4 1353.9 978.4 C1354.8 974.5 1355.5 969.9 1356.3 961.9 C1357.0 953.8 1357.0 950.0 1357.4 938.2 C1357.9 926.4 1358.1 915.8 1358.6 902.8 C1359.1 889.8 1359.2 882.0 1359.8 873.2 C1360.4 864.5 1360.9 861.4 1361.6 859.0 C1362.3 859.0 1362.6 859.0 1363.3 861.4 C1364.1 865.4 1364.4 869.7 1365.1 879.1 C1365.8 888.6 1366.2 896.8 1366.9 908.7 C1367.6 920.5 1368.0 927.6 1368.7 938.2 C1369.3 948.9 1369.5 955.0 1370.1 961.9 C1370.7 968.7 1371.0 972.5 1371.6 972.5 C1372.3 972.5 1372.8 968.7 1373.4 961.9 C1374.0 955.0 1374.1 947.7 1374.6 938.2 C1375.1 928.8 1375.3 921.7 1375.8 914.6 C1376.2 907.5 1376.1 905.8 1376.9 902.8 C1377.8 899.7 1378.8 899.2 1379.9 899.2 C1381.0 899.2 1381.3 899.9 1382.3 902.8 C1383.2 905.6 1383.8 911.0 1384.6 913.4 C1385.5 914.6 1385.8 914.6 1386.4 914.6 C1387.0 912.5 1387.2 908.7 1387.8 902.8 C1388.4 896.8 1388.6 893.3 1389.4 885.0 C1390.1 876.7 1390.8 868.7 1391.7 861.4 C1392.7 854.0 1392.8 852.2 1394.1 848.4 C1395.4 844.6 1396.3 844.6 1398.2 842.5 C1400.1 840.3 1401.7 838.0 1403.5 837.7 C1405.4 837.7 1406.1 839.9 1407.7 841.3 C1409.2 842.7 1409.8 844.0 1411.2 844.8 C1412.7 845.4 1413.6 844.8 1414.8 845.4 C1415.9 847.5 1416.4 846.4 1416.9 855.5 C1417.4 864.6 1417.2 874.4 1417.4 890.9 C1417.5 907.5 1417.5 919.3 1417.6 938.2 C1417.7 957.1 1417.7 973.2 1417.7 985.5 C1417.8 997.9 1417.7 987.6 1417.9 999.9 C1418.0 1012.3 1418.1 1028.4 1418.6 1047.3 C1419.0 1066.2 1419.4 1075.7 1420.1 1094.6 C1420.8 1113.5 1421.2 1126.5 1421.9 1141.9 C1422.5 1157.2 1422.8 1163.0 1423.3 1171.4 C1423.8 1179.8 1423.9 1183.8 1424.2 1183.8 C1424.6 1183.8 1424.7 1179.8 1425.2 1171.4 C1425.7 1163.0 1426.0 1157.2 1426.6 1141.9 C1427.2 1126.5 1427.5 1113.5 1428.0 1094.6 C1428.5 1075.7 1428.8 1066.2 1429.2 1047.3 C1429.6 1028.4 1429.9 1012.4 1430.1 1000.0 C1430.4 987.6 1430.3 997.9 1430.4 985.5 C1430.5 973.2 1430.5 954.8 1430.7 938.2 C1430.9 921.7 1431.0 915.8 1431.3 902.8 C1431.7 889.8 1431.8 882.9 1432.5 873.2 C1433.2 863.5 1433.9 855.5 1434.9 854.3 C1435.8 854.3 1436.4 861.1 1437.2 867.3 C1438.1 873.4 1438.2 876.7 1439.0 885.0 C1439.8 893.3 1440.3 898.0 1441.4 908.7 C1442.4 919.3 1443.2 928.8 1444.3 938.2 C1445.5 947.7 1446.1 950.5 1447.3 956.0 C1448.5 961.4 1449.2 963.1 1450.2 965.4 C1451.3 967.8 1451.2 967.8 1452.6 967.8 C1454.0 967.5 1455.4 966.6 1457.3 964.2 C1459.2 961.9 1460.5 960.0 1462.1 956.0 C1463.6 951.9 1464.1 950.0 1465.0 944.1 C1466.0 938.2 1466.2 933.5 1466.8 926.4 C1467.4 919.3 1467.5 915.3 1468.0 908.7 C1468.5 902.0 1468.2 896.8 1469.2 893.3 C1470.1 890.9 1471.4 891.9 1472.7 890.9 C1474.0 890.0 1474.5 890.7 1475.7 888.6 C1476.8 886.4 1477.1 883.6 1478.6 880.3 C1480.2 877.0 1481.8 872.3 1483.3 872.0 C1484.9 872.0 1485.2 874.9 1486.3 879.1 C1487.4 883.4 1487.8 889.0 1488.7 893.3 C1489.5 897.6 1489.5 900.4 1490.4 900.4 C1491.4 900.4 1492.2 897.1 1493.4 893.3 C1494.6 889.5 1495.1 884.1 1496.4 881.5 C1497.7 880.3 1498.6 881.2 1499.9 880.3 C1501.2 879.3 1501.9 880.3 1502.9 876.7 C1503.8 873.0 1503.9 867.3 1504.6 861.4 C1505.3 855.5 1505.7 850.6 1506.4 847.2 C1507.1 844.2 1507.1 844.2 1508.2 844.2 C1509.2 844.5 1510.1 847.4 1511.7 848.4 C1513.4 849.0 1514.8 848.7 1516.5 849.0 C1518.1 849.2 1519.0 849.6 1520.0 849.6 C1521.0 849.4 1520.3 848.4 1521.3 848.4 C1522.2 849.1 1523.4 848.4 1524.8 853.1 C1526.2 858.1 1527.1 864.5 1528.4 873.2 C1529.7 882.0 1530.3 888.6 1531.3 896.8 C1532.4 905.1 1532.9 910.1 1533.7 914.6 C1534.5 919.1 1534.3 918.4 1535.5 919.3 C1536.7 919.3 1538.4 919.3 1539.6 919.3 C1540.8 917.2 1540.7 912.9 1541.4 908.7 C1542.1 904.4 1542.3 900.7 1543.2 898.0 C1544.0 895.3 1544.6 895.1 1545.5 895.1 C1546.5 895.1 1547.1 895.1 1547.9 898.0 C1548.7 901.0 1548.9 901.8 1549.7 909.9 C1550.4 917.9 1551.1 925.5 1551.8 938.2 C1552.4 951.0 1552.6 959.5 1553.0 973.7 C1553.4 987.9 1553.5 992.1 1553.8 1009.2 C1554.1 1026.3 1553.8 1037.3 1554.3 1059.1 C1554.9 1081.0 1555.8 1094.6 1556.8 1118.3 C1557.9 1141.9 1558.4 1158.9 1559.6 1177.4 C1560.8 1196.0 1561.4 1207.0 1562.8 1210.9 C1564.1 1210.9 1565.0 1205.0 1566.3 1197.1 C1567.6 1189.3 1568.1 1178.6 1569.3 1171.5 C1570.4 1164.4 1570.8 1161.7 1572.2 1161.7 C1573.6 1162.8 1574.6 1171.3 1576.2 1177.4 C1577.7 1183.5 1578.7 1192.2 1580.1 1192.2 C1581.5 1188.3 1582.1 1176.4 1583.1 1157.7 C1584.0 1139.0 1584.2 1118.3 1585.0 1098.6 C1585.8 1078.9 1586.2 1069.4 1587.0 1059.1 C1587.8 1048.9 1588.0 1047.3 1589.0 1047.3 C1590.0 1051.3 1590.9 1064.7 1591.9 1078.9 C1592.9 1093.1 1593.1 1102.5 1593.9 1118.3 C1594.7 1134.1 1595.2 1143.1 1595.9 1157.7 C1596.6 1172.3 1596.7 1191.2 1597.4 1191.2 C1598.2 1191.2 1599.1 1176.2 1599.8 1157.7 C1600.6 1139.2 1600.6 1122.2 1601.2 1098.6 C1601.8 1074.9 1602.2 1059.1 1602.8 1039.4 C1603.3 1019.7 1603.7 1013.1 1604.0 1000.0 C1604.0 986.9 1604.0 986.4 1604.0 974.0 C1604.0 961.6 1604.0 952.2 1604.0 938.0 C1604.4 923.8 1605.0 915.8 1605.8 902.8 C1606.6 889.8 1607.1 881.7 1608.2 873.2 C1609.3 864.7 1610.2 863.2 1611.1 860.2 C1612.0 858.4 1612.1 858.4 1612.9 858.4 C1613.7 858.6 1614.4 858.4 1615.3 861.4 C1616.2 865.5 1616.8 870.8 1617.6 879.1 C1618.4 887.4 1618.7 893.3 1619.4 902.8 C1620.1 912.3 1620.4 917.0 1621.0 926.4 C1621.6 935.8 1621.9 941.3 1622.5 950.0 C1623.1 958.7 1623.4 962.0 1624.0 970.0 C1624.6 978.0 1625.2 984.0 1625.5 990.0 C1625.5 996.0 1625.5 994.1 1625.5 1000.0 C1626.0 1005.9 1626.8 1009.9 1628.0 1019.7 C1629.2 1029.6 1630.1 1038.2 1631.4 1049.3 C1632.6 1060.3 1633.3 1067.0 1634.3 1074.9 C1635.3 1082.8 1634.7 1084.8 1636.3 1088.7 C1637.9 1092.7 1640.2 1092.3 1642.2 1094.6 C1644.2 1097.0 1644.4 1100.5 1646.1 1100.5 C1647.9 1097.4 1649.5 1087.1 1651.1 1078.9 C1652.6 1070.6 1652.8 1064.5 1654.0 1059.1 C1655.2 1053.8 1655.4 1052.2 1657.0 1052.2 C1658.6 1054.2 1660.6 1059.7 1661.9 1069.0 C1663.2 1078.3 1662.5 1084.8 1663.4 1098.6 C1664.3 1112.4 1665.1 1122.2 1666.3 1138.0 C1667.5 1153.8 1668.1 1161.6 1669.3 1177.4 C1670.5 1193.2 1671.3 1201.1 1672.3 1216.9 C1673.3 1232.7 1673.6 1240.5 1674.4 1256.3 C1675.2 1272.1 1675.7 1285.5 1676.4 1295.7 C1677.1 1305.9 1677.0 1303.8 1677.8 1307.5 C1678.6 1311.2 1679.3 1312.9 1680.5 1314.0 C1681.7 1314.0 1682.6 1313.0 1684.0 1313.0 C1685.4 1313.0 1686.4 1314.0 1687.5 1314.0 C1688.6 1312.2 1688.7 1310.8 1689.6 1304.0 C1690.5 1297.2 1691.2 1289.5 1691.8 1280.0 C1692.4 1270.5 1692.3 1268.9 1692.7 1256.3 C1693.1 1243.7 1693.2 1232.7 1693.6 1216.9 C1694.0 1201.1 1694.1 1193.2 1694.6 1177.4 C1695.1 1161.6 1695.3 1153.8 1696.0 1138.0 C1696.7 1122.2 1697.2 1114.4 1698.3 1098.6 C1699.4 1082.8 1700.3 1074.9 1701.3 1059.1 C1702.3 1043.3 1702.6 1031.5 1703.3 1019.7 C1704.0 1007.9 1704.5 1008.5 1705.0 1000.0 C1705.5 991.5 1705.1 986.3 1706.0 977.0 C1706.9 967.7 1707.5 960.1 1709.4 953.5 C1711.3 946.9 1711.9 946.0 1715.3 944.0 C1718.7 943.6 1723.2 944.0 1726.2 943.6 C1729.1 941.6 1728.7 940.9 1730.1 933.8 C1731.5 926.7 1731.5 915.6 1733.1 908.1 C1734.6 900.7 1736.2 899.9 1738.0 896.3 C1739.8 892.8 1740.4 894.3 1741.9 890.4 C1743.5 886.5 1744.1 881.1 1745.9 876.6 C1747.7 872.1 1748.4 870.1 1750.8 867.7 C1753.2 865.4 1755.5 867.7 1757.7 864.8 C1759.9 861.8 1760.1 856.3 1761.7 852.9 C1763.2 849.6 1764.0 848.0 1765.6 848.0 C1767.2 848.0 1768.0 848.8 1769.5 852.9 C1771.1 857.1 1772.2 859.6 1773.5 868.7 C1774.8 877.8 1775.2 884.5 1776.0 898.3 C1776.9 912.1 1777.2 921.9 1777.8 937.7 C1778.5 953.5 1778.8 964.7 1779.2 977.1 C1779.6 989.6 1779.7 985.6 1780.0 1000.0 C1780.3 1014.4 1780.4 1029.3 1780.8 1049.0 C1781.2 1068.7 1781.5 1078.7 1782.2 1098.5 C1782.9 1118.3 1783.4 1125.7 1784.2 1148.0 C1785.0 1170.3 1785.5 1190.2 1786.0 1210.0 C1786.5 1229.8 1786.3 1242.6 1786.7 1247.0 C1787.1 1247.0 1787.4 1245.4 1788.0 1232.0 C1788.6 1218.6 1789.0 1201.2 1789.5 1180.0 C1790.0 1158.8 1790.0 1142.4 1790.5 1126.0 C1791.0 1109.6 1791.5 1108.6 1792.2 1098.0 C1792.9 1087.4 1793.3 1082.8 1794.0 1073.0 C1794.7 1063.2 1795.0 1058.6 1795.8 1049.0 C1796.6 1039.4 1797.1 1034.8 1798.0 1025.0 C1798.9 1015.2 1799.3 1009.6 1800.2 1000.0 C1801.1 990.4 1801.6 985.0 1802.3 977.0 C1803.0 969.0 1803.3 975.7 1803.8 960.0 C1804.3 944.3 1804.2 916.5 1805.0 898.3 C1805.8 880.0 1806.6 875.8 1807.8 868.7 C1809.0 862.8 1809.7 862.8 1810.9 862.8 C1812.2 864.0 1812.9 865.6 1813.9 874.6 C1814.9 883.7 1814.9 893.6 1815.9 908.1 C1816.9 922.7 1817.6 934.4 1818.8 947.6 C1820.0 960.8 1820.6 971.0 1821.8 974.2 C1823.0 974.2 1823.6 974.2 1824.7 963.3 C1825.9 952.1 1826.5 932.6 1827.7 918.0 C1828.9 903.4 1829.3 899.1 1830.7 890.4 C1832.0 881.7 1833.2 878.2 1834.6 874.6 C1836.0 872.7 1836.0 872.7 1837.6 872.7 C1839.1 874.0 1839.9 880.7 1842.5 881.5 C1845.0 881.5 1847.2 877.4 1850.4 876.6 C1853.5 876.6 1855.7 877.6 1858.3 877.6 C1860.8 875.6 1861.6 869.7 1863.2 866.7 C1864.8 863.8 1864.0 862.8 1866.1 862.8 C1868.3 862.8 1871.3 864.8 1874.0 866.7 C1876.8 868.7 1877.8 868.7 1879.9 872.7 C1882.1 876.6 1882.9 881.3 1884.9 886.5 C1886.8 891.6 1888.2 892.0 1889.8 898.3 C1891.4 904.6 1891.8 911.9 1892.8 918.0 C1893.7 924.1 1893.5 928.8 1894.7 928.8 C1895.9 928.1 1897.1 918.2 1898.7 914.1 C1900.2 909.9 1901.2 908.1 1902.6 908.1 C1904.0 908.9 1904.5 912.1 1905.6 918.0 C1906.7 923.9 1907.2 929.8 1908.1 937.7 C1909.0 945.6 1909.3 947.6 1910.1 957.4 C1910.9 967.3 1911.4 974.5 1912.1 987.0 C1912.8 999.5 1912.9 1007.5 1913.6 1020.0 C1914.3 1032.5 1914.6 1033.6 1915.8 1049.3 C1917.0 1065.0 1918.3 1083.7 1919.5 1098.5 C1920.7 1113.3 1920.8 1115.9 1922.0 1123.2 C1923.2 1130.5 1924.2 1130.2 1925.5 1135.0 C1926.8 1139.8 1927.4 1142.6 1928.5 1147.0 C1929.6 1151.4 1929.9 1157.0 1930.8 1157.0 C1931.7 1156.2 1932.5 1148.8 1933.2 1143.0 C1933.9 1137.2 1933.7 1134.4 1934.2 1128.0 C1934.7 1121.6 1934.7 1121.6 1935.5 1110.8 C1936.3 1100.0 1936.8 1088.7 1938.0 1073.9 C1939.2 1059.1 1940.7 1048.7 1941.7 1036.9 C1942.7 1025.1 1942.7 1023.0 1943.2 1015.0 C1943.7 1007.0 1943.2 1003.0 1944.0 996.9 C1945.0 990.8 1946.2 986.4 1948.0 984.5 C1949.8 984.5 1950.9 986.2 1952.9 987.5 C1954.9 988.8 1956.1 990.1 1957.8 991.2 C1959.5 992.3 1960.6 992.6 1961.3 993.0"/>
</g>
<g stroke="#000" stroke-width="6.8" fill="none" stroke-dasharray="34 31.5" filter="url(#soft)">
<line x1="666" y1="124.4" x2="666" y2="1201"/>
<line x1="1304.4" y1="130.5" x2="1304.4" y2="1206"/>
<line x1="1348.7" y1="130.5" x2="1348.7" y2="1206"/>
</g>
<g fill="none" stroke-linecap="round" stroke-width="9.2" filter="url(#softer)">
<line x1="128" y1="1235.8" x2="287.5" y2="1235.8" stroke="#ff6400"/>
<line x1="128" y1="1325.3" x2="287.5" y2="1325.3" stroke="#008adc"/>
</g>
<g filter="url(#soft)">
<text transform="translate(93.1 1491.8) scale(1.000 1)" font-size="71.5" text-anchor="middle">4000</text>
<text transform="translate(360.0 1491.8) scale(1.000 1)" font-size="71.5" text-anchor="middle">3500</text>
<text transform="translate(626.9 1491.8) scale(1.000 1)" font-size="71.5" text-anchor="middle">3000</text>
<text transform="translate(893.8 1491.8) scale(1.000 1)" font-size="71.5" text-anchor="middle">2500</text>
<text transform="translate(1160.6 1491.8) scale(1.000 1)" font-size="71.5" text-anchor="middle">2000</text>
<text transform="translate(1427.5 1491.8) scale(1.000 1)" font-size="71.5" text-anchor="middle">1500</text>
<text transform="translate(1694.4 1491.8) scale(1.000 1)" font-size="71.5" text-anchor="middle">1000</text>
<text transform="translate(1961.3 1491.8) scale(1.000 1)" font-size="71.5" text-anchor="middle">500</text>
<text transform="translate(306.5 1260.8) scale(1.020 1)" font-size="70.0" text-anchor="start">EIA-30 Aged</text>
<text transform="translate(306.5 1349.5) scale(1.010 1)" font-size="70.0" text-anchor="start">EIA-30 Unaged</text>
<text transform="translate(466.0 644.5) scale(1.020 1)" font-size="70.0" text-anchor="start">-CH<tspan font-size="49" dy="17">2</tspan><tspan dy="-17">-</tspan></text>
<text transform="translate(1112.5 648.5) scale(1.020 1)" font-size="70.0" text-anchor="start">-C=O</text>
<text transform="translate(1371.5 648.5) scale(1.020 1)" font-size="70.0" text-anchor="start">C=C</text>
<text transform="translate(718.5 1621.3) scale(1.030 1)" font-size="70.0" text-anchor="start">Wavenumber (cm<tspan font-size="42" dy="-29.5">−1</tspan><tspan dy="29.5">)</tspan></text>
</g>
</svg>
</body></html>
